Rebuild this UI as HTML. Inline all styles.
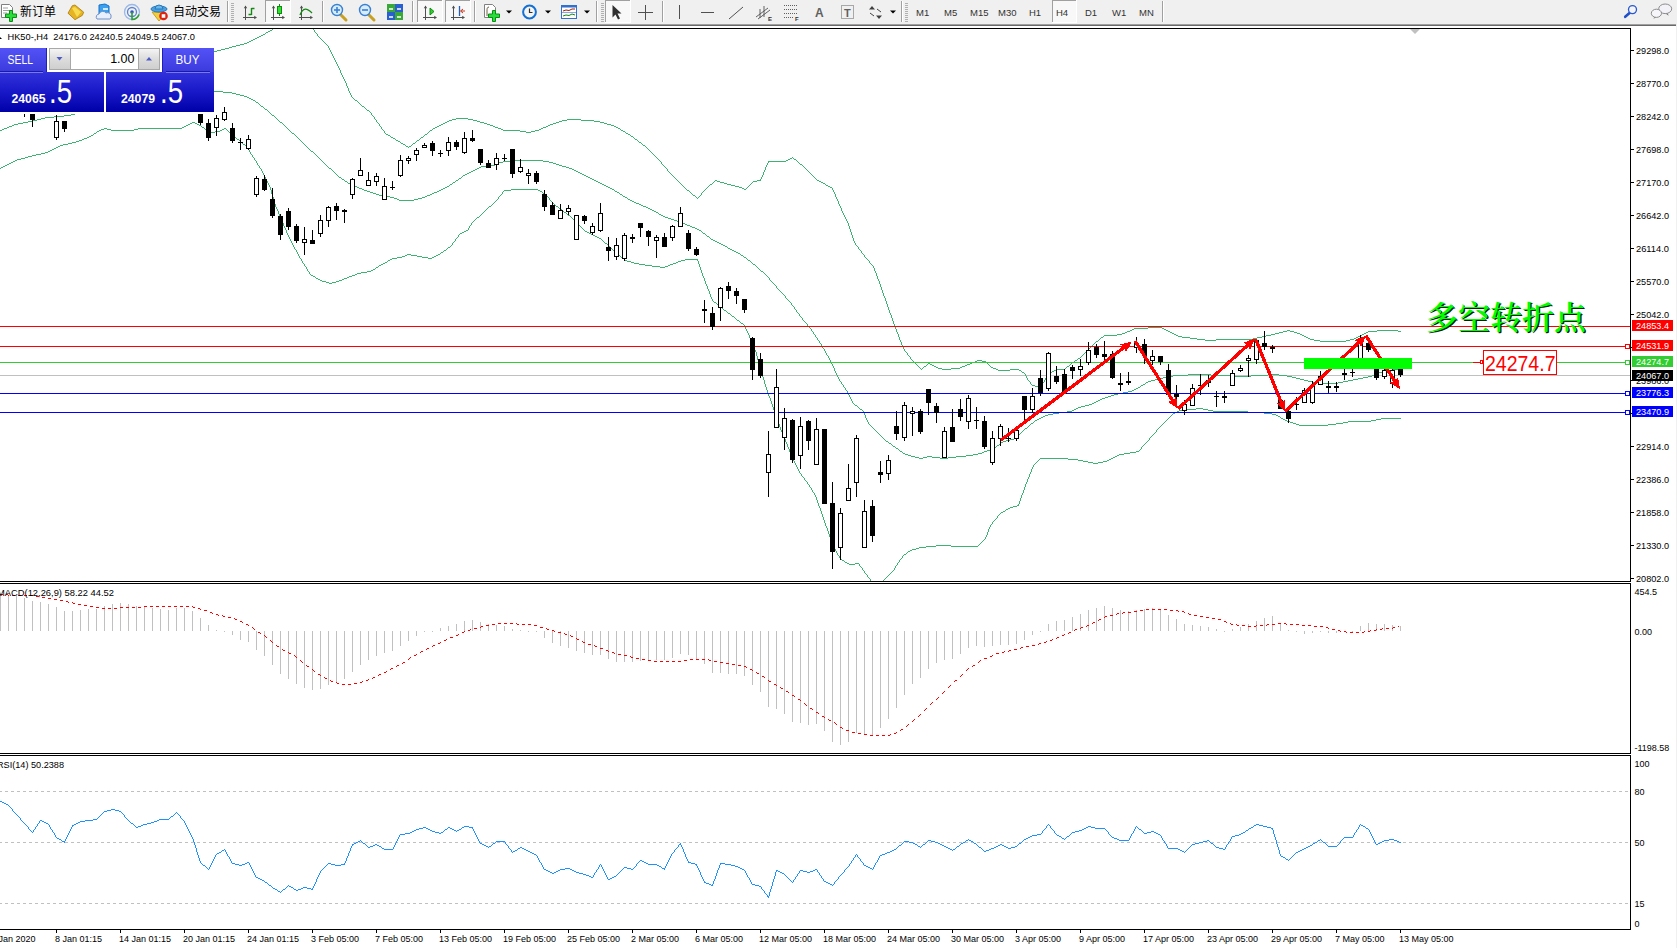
<!DOCTYPE html><html><head><meta charset="utf-8"><title>HK50-,H4</title>
<style>html,body{margin:0;padding:0;background:#fff;overflow:hidden}svg{display:block}text{font-family:"Liberation Sans","Noto Sans CJK SC",sans-serif}</style></head><body>
<svg width="1677" height="948" viewBox="0 0 1677 948">
<defs>
<linearGradient id="gTop" x1="0" y1="0" x2="0" y2="1"><stop offset="0" stop-color="#5252f6"/><stop offset="1" stop-color="#3a3adc"/></linearGradient>
<linearGradient id="gBot" x1="0" y1="0" x2="0" y2="1"><stop offset="0" stop-color="#3232dc"/><stop offset="0.5" stop-color="#1818c8"/><stop offset="1" stop-color="#0000a8"/></linearGradient>
<linearGradient id="gBtn" x1="0" y1="0" x2="0" y2="1"><stop offset="0" stop-color="#f4f4f4"/><stop offset="0.5" stop-color="#dcdcdc"/><stop offset="1" stop-color="#cfcfcf"/></linearGradient>
<clipPath id="cMain"><rect x="0" y="29" width="1630" height="552"/></clipPath>
</defs>
<rect width="1677" height="948" fill="#fff"/>
<rect x="0" y="375" width="1630" height="1" fill="#c0c0c0" shape-rendering="crispEdges"/>
<path d="M272 29.5h1m40 0h1m-44 1h2m42 0h1m-47 1h2m44 0h1m-49 1h2m47 0h1m-51 1h1m50 0h1m-54 1h2m52 0h1m-57 1h2m54 0h1m-59 1h2m57 0h1m-62 1h2m60 0h1m-65 1h2m63 0h1m-68 1h2m66 0h1m-71 1h2m69 0h1m-74 1h2m72 0h1m-77 1h2m75 0h1m-81 1h3m78 0h1m-86 1h4m82 0h1m-91 1h4m87 0h1m-96 1h4m92 0h1m-100 1h3m96 0h1m-104 1h4m100 0h1m-109 1h4m104 0h1m-113 1h4m109 0h1m-117 1h3m113 0h1m0 1h1m-1 1h1m0 1h1m-1 1h1m0 1h1m-1 1h1m0 1h1m-1 1h1m0 1h1m-1 1h1m0 1h1m-1 1h1m0 1h1m-1 1h1m0 1h1m-1 1h1m0 1h1m-1 1h1m0 1h1m-1 1h1m-1 1h1m0 1h1m-1 1h1m0 1h1m-1 1h1m0 1h1m-1 1h1m0 1h1m-1 1h1m0 1h1m-1 1h1m0 1h1m-1 1h1m-1 1h1m0 1h1m-1 1h1m0 1h1m-1 1h1m-1 1h1m0 1h1m-1 1h1m0 1h1m-1 1h1m0 1h1m-1 1h1m0 1h1m0 1h1m0 1h1m0 1h2m0 1h1m0 1h1m0 1h1m0 1h1m0 1h1m0 1h2m0 1h1m0 1h1m0 1h1m0 1h2m0 1h1m0 1h1m0 1h1m-1 1h1m0 1h1m0 1h1m0 1h1m-1 1h1m81 0h12m-93 1h1m76 0h4m12 0h5m94 0h14m-205 1h1m72 0h3m21 0h4m85 0h5m14 0h13m-218 1h1m70 0h2m28 0h3m79 0h3m32 0h6m-223 1h1m67 0h2m33 0h4m72 0h3m41 0h4m-226 1h1m64 0h2m39 0h3m66 0h3m48 0h3m-228 1h1m61 0h2m44 0h3m60 0h3m54 0h4m-232 1h1m59 0h2m49 0h3m55 0h2m61 0h3m-234 1h1m56 0h2m54 0h2m51 0h2m66 0h2m-235 1h1m53 0h2m58 0h3m45 0h3m70 0h2m-237 1h1m51 0h2m63 0h3m40 0h2m75 0h2m-238 1h1m49 0h1m68 0h2m36 0h2m79 0h1m-238 1h1m46 0h2m71 0h17m15 0h4m82 0h2m-239 1h1m44 0h1m90 0h6m5 0h4m88 0h2m-241 1h1m43 0h1m97 0h5m94 0h1m-241 1h1m41 0h1m198 0h2m-242 1h2m37 0h2m201 0h2m-242 1h2m34 0h1m205 0h1m-241 1h1m32 0h1m207 0h2m-242 1h2m28 0h2m210 0h1m-241 1h2m25 0h1m213 0h1m-240 1h1m23 0h1m215 0h2m-241 1h2m19 0h2m218 0h1m-240 1h2m16 0h1m221 0h1m-239 1h1m14 0h1m223 0h2m-240 1h2m10 0h2m226 0h1m-239 1h2m7 0h1m229 0h1m-238 1h1m5 0h1m231 0h2m-239 1h2m1 0h2m234 0h1m-238 1h1m237 0h1m0 1h1m0 1h1m0 1h1m0 1h1m0 1h1m0 1h1m0 1h1m0 1h1m0 1h1m0 1h1m135 0h1m-136 1h1m132 0h2m1 0h1m-136 1h1m129 0h2m4 0h2m-137 1h1m126 0h2m8 0h1m-137 1h1m107 0h18m11 0h1m-137 1h1m106 0h1m29 0h1m-138 1h1m105 0h1m31 0h1m-138 1h1m104 0h1m32 0h2m-139 1h1m102 0h1m35 0h1m-139 1h1m101 0h1m36 0h1m-139 1h1m99 0h1m38 0h1m-139 1h1m98 0h1m39 0h1m-139 1h1m97 0h1m40 0h1m-140 1h1m96 0h1m42 0h1m-140 1h1m95 0h1m43 0h1m-140 1h1m93 0h1m45 0h1m-140 1h1m92 0h1m46 0h1m-140 1h1m91 0h1m47 0h1m-140 1h1m89 0h1m49 0h1m-140 1h1m88 0h1m50 0h1m-140 1h1m86 0h1m52 0h1m-140 1h1m85 0h1m53 0h1m-140 1h1m83 0h1m55 0h1m-140 1h1m37 0h2m40 0h4m56 0h2m-141 1h1m35 0h1m2 0h3m33 0h4m62 0h2m-142 1h1m33 0h1m6 0h4m28 0h1m68 0h2m-143 1h1m31 0h1m11 0h3m24 0h1m71 0h2m-144 1h1m28 0h2m15 0h4m19 0h1m74 0h1m-144 1h1m26 0h1m21 0h4m14 0h1m76 0h2m-145 1h1m24 0h1m26 0h4m9 0h1m79 0h2m-146 1h1m22 0h1m31 0h3m5 0h1m82 0h2m-147 1h1m20 0h1m35 0h2m2 0h1m85 0h1m-147 1h1m18 0h1m38 0h2m86 0h1m-146 1h2m15 0h1m128 0h1m-145 1h1m13 0h1m129 0h1m-144 1h1m11 0h1m131 0h1m-144 1h1m9 0h1m132 0h1m-143 1h1m8 0h1m133 0h1m-143 1h2m5 0h1m134 0h1m-141 1h1m3 0h1m135 0h1m-140 1h1m1 0h1m137 0h1m-140 1h1m138 0h1m0 1h1m-1 1h1m0 1h1m-1 1h1m-1 1h1m0 1h1m-1 1h1m0 1h1m-1 1h1m0 1h1m-1 1h1m-1 1h1m0 1h1m-1 1h1m0 1h1m-1 1h1m0 1h1m-1 1h1m0 1h1m-1 1h1m0 1h1m-1 1h1m0 1h1m-1 1h1m0 1h1m-1 1h1m-1 1h1m0 1h1m-1 1h1m-1 1h1m0 1h1m-1 1h1m-1 1h1m0 1h1m-1 1h1m-1 1h1m0 1h1m-1 1h1m-1 1h1m0 1h1m-1 1h1m-1 1h1m0 1h1m-1 1h1m0 1h1m-1 1h1m0 1h1m0 1h1m0 1h1m-1 1h1m0 1h1m0 1h1m0 1h1m-1 1h1m0 1h1m0 1h1m0 1h1m-1 1h1m0 1h1m0 1h1m0 1h1m0 1h1m0 1h1m-1 1h1m0 1h1m0 1h1m0 1h1m0 1h1m-1 1h1m0 1h1m-1 1h1m-1 1h1m0 1h1m-1 1h1m0 1h1m-1 1h1m-1 1h1m0 1h1m-1 1h1m-1 1h1m0 1h1m-1 1h1m0 1h1m-1 1h1m-1 1h1m0 1h1m-1 1h1m-1 1h1m0 1h1m-1 1h1m-1 1h1m0 1h1m-1 1h1m-1 1h1m0 1h1m-1 1h1m-1 1h1m0 1h1m-1 1h1m0 1h1m-1 1h1m-1 1h1m0 1h1m-1 1h1m-1 1h1m0 1h1m-1 1h1m-1 1h1m0 1h1m-1 1h1m-1 1h1m0 1h1m-1 1h1m-1 1h1m0 1h1m-1 1h1m0 1h1m-1 1h1m-1 1h1m0 1h1m-1 1h1m-1 1h1m0 1h1m-1 1h1m-1 1h1m0 1h1m-1 1h1m0 1h1m-1 1h1m252 0h14m-267 1h1m238 0h14m14 0h2m-268 1h1m235 0h2m30 0h2m-270 1h1m233 0h2m34 0h2m119 0h3m87 0h21m-502 1h1m230 0h3m38 0h2m113 0h4m3 0h4m74 0h9m21 0h3m-504 1h1m227 0h2m43 0h2m107 0h4m11 0h3m69 0h2m-471 1h1m224 0h3m47 0h2m101 0h4m18 0h3m64 0h2m-468 1h1m218 0h5m52 0h2m95 0h4m25 0h2m60 0h2m-466 1h1m205 0h13m59 0h2m88 0h5m31 0h2m56 0h2m-464 1h1m204 0h1m74 0h4m80 0h4m38 0h2m52 0h2m-461 1h1m201 0h2m79 0h8m67 0h5m44 0h2m48 0h2m-459 1h1m200 0h1m89 0h7m56 0h4m51 0h2m44 0h2m-457 1h1m199 0h1m97 0h8m11 0h37m57 0h4m36 0h4m-454 1h1m197 0h1m106 0h11m98 0h6m26 0h4m-450 1h1m195 0h2m222 0h26m-445 1h1m193 0h1m-195 1h1m192 0h1m-194 1h1m191 0h1m-192 1h1m189 0h1m-191 1h1m188 0h1m-189 1h1m186 0h1m-188 1h1m185 0h1m-186 1h1m183 0h1m-185 1h1m182 0h1m-183 1h1m180 0h1m-181 1h1m178 0h1m-179 1h1m176 0h1m-178 1h1m175 0h1m-176 1h1m173 0h1m-174 1h1m171 0h1m-172 1h1m169 0h1m-171 1h1m167 0h2m-169 1h1m165 0h1m-166 1h1m64 0h5m93 0h2m-164 1h1m61 0h2m5 0h4m88 0h1m-161 1h1m57 0h3m11 0h1m85 0h2m-159 1h1m12 0h2m40 0h2m15 0h1m83 0h1m-156 1h1m10 0h1m2 0h2m35 0h3m18 0h1m81 0h1m-154 1h1m8 0h1m5 0h2m31 0h2m22 0h1m79 0h1m-152 1h1m5 0h2m8 0h2m26 0h3m25 0h1m76 0h2m-150 1h1m3 0h1m12 0h2m22 0h2m29 0h2m73 0h1m-147 1h1m1 0h1m15 0h4m9 0h9m33 0h3m69 0h1m-145 1h1m20 0h9m45 0h2m12 0h9m37 0h9m-67 1h12m9 0h2m33 0h2m-35 1h1m30 0h2m-32 1h2m27 0h1m-28 1h1m25 0h1m-26 1h1m23 0h1m-25 1h1m22 0h1m-23 1h1m20 0h1m-22 1h1m19 0h1m-20 1h1m17 0h1m-19 1h1m17 0h1m-18 1h1m15 0h1m-16 1h1m14 0h1m-15 1h1m12 0h1m-14 1h1m10 0h2m-12 1h1m8 0h1m-9 1h3m3 0h2m-5 1h3" stroke="#3cb371" stroke-width="1" fill="none" shape-rendering="crispEdges"/>
<path d="M214 91.5h9m0 1h9m0 1h4m0 1h4m0 1h4m0 1h3m0 1h2m0 1h2m0 1h2m0 1h2m0 1h1m0 1h2m0 1h1m0 1h1m0 1h1m0 1h2m0 1h1m0 1h1m0 1h2m0 1h1m0 1h1m0 1h1m0 1h1m-200 1h4m196 0h1m-208 1h7m201 0h2m-220 1h10m210 0h1m-230 1h9m221 0h1m-235 1h4m231 0h1m-240 1h4m236 0h1m-245 1h4m241 0h1m-251 1h5m246 0h1m-257 1h5m252 0h2m-264 1h5m259 0h1m-269 1h4m265 0h1m-272 1h2m270 0h1m-276 1h3m273 0h1m-279 1h2m277 0h1m-283 1h3m280 0h1m-286 1h2m284 0h1m-289 1h2m287 0h1m0 1h1m0 1h1m0 1h2m0 1h1m0 1h1m0 1h1m0 1h1m0 1h1m0 1h1m0 1h1m0 1h1m0 1h1m0 1h1m0 1h1m0 1h1m0 1h1m0 1h1m0 1h1m0 1h1m0 1h1m0 1h2m0 1h1m0 1h1m0 1h1m0 1h1m0 1h1m0 1h1m0 1h1m0 1h1m0 1h1m189 0h32m-221 1h1m180 0h8m32 0h6m-226 1h1m175 0h4m46 0h4m-229 1h1m172 0h2m54 0h3m-231 1h1m169 0h2m59 0h3m-233 1h1m161 0h7m64 0h3m-235 1h1m153 0h7m74 0h4m-238 1h1m150 0h2m85 0h3m-240 1h2m146 0h2m90 0h3m-241 1h1m143 0h2m95 0h2m-242 1h1m140 0h2m99 0h2m-243 1h1m137 0h2m103 0h2m-244 1h1m134 0h2m107 0h2m-245 1h1m131 0h2m111 0h2m-246 1h1m128 0h2m115 0h2m-247 1h1m125 0h2m119 0h2m-248 1h1m123 0h1m123 0h2m-249 1h2m120 0h1m126 0h2m-249 1h1m117 0h2m129 0h2m-250 1h2m114 0h1m133 0h2m-250 1h1m111 0h2m136 0h2m-251 1h2m108 0h1m140 0h2m-251 1h1m105 0h2m143 0h2m-252 1h2m102 0h1m147 0h2m-252 1h2m98 0h2m150 0h2m-252 1h2m95 0h1m154 0h2m-252 1h3m90 0h2m157 0h2m-251 1h2m86 0h2m161 0h2m-251 1h3m81 0h2m165 0h2m-250 1h2m77 0h2m169 0h2m-250 1h3m72 0h2m173 0h1m-248 1h3m67 0h2m176 0h2m-247 1h3m61 0h3m180 0h2m-246 1h3m56 0h2m185 0h1m-244 1h3m51 0h2m188 0h2m-243 1h5m43 0h3m192 0h1m-239 1h6m35 0h2m196 0h2m-235 1h4m28 0h3m200 0h2m-233 1h3m21 0h4m205 0h1m-231 1h2m15 0h4m210 0h2m-231 1h15m216 0h2m0 1h2m0 1h2m0 1h3m0 1h2m0 1h2m0 1h3m0 1h2m0 1h2m0 1h2m0 1h2m0 1h2m0 1h2m0 1h1m0 1h2m0 1h2m0 1h2m0 1h3m0 1h3m0 1h3m0 1h3m0 1h3m0 1h2m0 1h3m0 1h2m0 1h3m0 1h2m0 1h3m0 1h2m0 1h2m0 1h2m0 1h1m0 1h1m0 1h2m0 1h1m0 1h1m0 1h2m0 1h1m0 1h1m0 1h2m0 1h2m0 1h2m0 1h2m0 1h2m0 1h2m0 1h2m0 1h2m0 1h1m0 1h2m0 1h2m0 1h2m0 1h2m0 1h2m0 1h2m0 1h1m0 1h2m0 1h1m0 1h2m0 1h1m0 1h1m0 1h2m0 1h1m0 1h1m0 1h1m0 1h2m0 1h1m0 1h1m0 1h1m0 1h1m0 1h1m0 1h1m0 1h2m0 1h1m0 1h1m0 1h1m0 1h1m0 1h1m0 1h1m0 1h1m-1 1h1m0 1h1m0 1h1m0 1h1m0 1h1m0 1h1m0 1h1m0 1h1m-1 1h1m0 1h1m0 1h1m0 1h1m0 1h1m0 1h1m0 1h1m0 1h1m0 1h1m0 1h1m-1 1h1m0 1h1m0 1h1m0 1h1m0 1h1m0 1h1m0 1h1m-1 1h1m0 1h1m0 1h1m0 1h1m-1 1h1m0 1h1m0 1h1m-1 1h1m0 1h1m0 1h1m0 1h1m-1 1h1m0 1h1m0 1h1m0 1h1m-1 1h1m0 1h1m0 1h1m0 1h1m0 1h1m0 1h1m-1 1h1m0 1h1m0 1h1m0 1h1m0 1h1m-1 1h1m0 1h1m0 1h1m-1 1h1m0 1h1m0 1h1m-1 1h1m0 1h1m0 1h1m-1 1h1m0 1h1m0 1h1m-1 1h1m0 1h1m0 1h1m-1 1h1m0 1h1m-1 1h1m0 1h1m0 1h1m-1 1h1m0 1h1m-1 1h1m0 1h1m-1 1h1m0 1h1m0 1h1m-1 1h1m0 1h1m-1 1h1m0 1h1m-1 1h1m0 1h1m-1 1h1m0 1h1m-1 1h1m0 1h1m-1 1h1m0 1h1m-1 1h1m558 0h8m-567 1h1m549 0h9m-558 1h1m546 0h2m-549 1h1m543 0h3m-546 1h1m540 0h2m-543 1h1m351 0h23m57 0h11m95 0h3m-540 1h1m335 0h15m23 0h20m20 0h17m11 0h8m85 0h2m-537 1h1m330 0h5m58 0h20m36 0h5m76 0h4m-534 1h1m324 0h5m124 0h4m67 0h5m-530 1h1m320 0h4m133 0h4m58 0h5m-524 1h1m315 0h4m141 0h4m49 0h5m-519 1h1m311 0h4m149 0h4m40 0h5m-513 1h1m307 0h3m157 0h5m30 0h5m-507 1h1m304 0h2m165 0h5m20 0h5m-502 1h1m303 0h1m172 0h20m-496 1h1m300 0h2m-302 1h1m297 0h2m-300 1h1m296 0h1m-297 1h1m293 0h2m-295 1h1m290 0h2m-293 1h1m288 0h2m-290 1h1m285 0h2m-287 1h1m280 0h4m-285 1h1m275 0h5m-280 1h1m269 0h5m-275 1h1m265 0h4m-269 1h1m261 0h3m-265 1h1m258 0h3m-261 1h1m254 0h3m-258 1h1m251 0h3m-254 1h1m248 0h2m-251 1h1m246 0h2m-248 1h1m243 0h2m-246 1h1m241 0h2m-243 1h1m238 0h2m-240 1h1m234 0h3m-237 1h2m228 0h4m-232 1h1m223 0h4m-227 1h1m219 0h3m-222 1h1m216 0h2m-218 1h2m212 0h2m-214 1h1m209 0h2m-211 1h1m203 0h5m-209 1h1m195 0h8m-203 1h1m188 0h6m-195 1h1m183 0h5m-188 1h1m179 0h3m-183 1h1m177 0h2m-180 1h1m175 0h2m-177 1h1m172 0h2m-175 1h1m170 0h2m-172 1h1m167 0h2m-170 1h1m166 0h1m-167 1h1m164 0h1m-166 1h1m162 0h2m-164 1h1m160 0h1m-161 1h1m158 0h1m-159 1h1m156 0h1m-157 1h1m154 0h1m-155 1h1m151 0h2m-153 1h1m149 0h1m-150 1h1m147 0h1m-148 1h1m145 0h1m-146 1h1m143 0h1m-144 1h1m141 0h1m-142 1h1m139 0h1m-140 1h1m137 0h1m-138 1h1m135 0h1m-136 1h1m133 0h1m-134 1h1m130 0h2m-132 1h1m125 0h4m-129 1h1m120 0h4m-124 1h2m115 0h3m-118 1h1m112 0h2m-114 1h2m109 0h1m-110 1h1m107 0h1m-108 1h1m104 0h2m-106 1h2m101 0h1m-102 1h1m98 0h2m-100 1h2m94 0h2m-96 1h1m91 0h2m-93 1h1m87 0h3m-90 1h2m82 0h3m-85 1h1m79 0h2m-81 1h2m73 0h4m-77 1h3m65 0h5m-70 1h3m55 0h7m-62 1h4m12 0h5m24 0h10m-51 1h4m4 0h4m5 0h8m8 0h8m-37 1h4m17 0h8" stroke="#3cb371" stroke-width="1" fill="none" shape-rendering="crispEdges"/>
<path d="M192 122.5h3m-5 1h2m3 0h2m-9 1h2m7 0h2m-13 1h2m11 0h2m-17 1h2m15 0h1m-20 1h2m18 0h2m-100 1h3m31 0h44m22 0h1m19 0h2m-125 1h3m3 0h4m23 0h4m67 0h1m16 0h2m2 0h1m-128 1h2m10 0h23m72 0h2m12 0h2m5 0h1m-131 1h2m109 0h2m5 0h5m8 0h1m-133 1h1m113 0h5m14 0h2m-137 1h2m135 0h1m-139 1h1m138 0h1m-142 1h2m140 0h1m-145 1h2m143 0h1m-148 1h2m146 0h1m-152 1h3m149 0h1m-155 1h2m153 0h2m-160 1h3m157 0h1m-164 1h3m161 0h1m-169 1h4m165 0h1m-174 1h4m170 0h1m-180 1h5m175 0h2m-185 1h3m182 0h1m-188 1h2m186 0h1m-191 1h2m189 0h1m-194 1h2m191 0h1m-196 1h2m194 0h1m-199 1h2m197 0h1m-202 1h2m199 0h1m-205 1h3m202 0h1m-210 1h4m205 0h1m-215 1h5m210 0h1m-220 1h4m216 0h1m-225 1h4m220 0h1m-228 1h3m225 0h1m-233 1h4m229 0h1m-238 1h4m233 0h1m-240 1h2m238 0h1m-243 1h2m241 0h1m-246 1h2m243 0h1m-248 1h2m246 0h1m-251 1h2m248 0h1m-253 1h2m251 0h1m-256 1h2m254 0h1m-259 1h2m256 0h1m-260 1h1m259 0h1m0 1h1m-1 1h1m0 1h1m-1 1h1m0 1h1m-1 1h1m0 1h1m-1 1h1m0 1h1m-1 1h1m0 1h1m-1 1h1m0 1h1m-1 1h1m0 1h1m-1 1h1m0 1h1m-1 1h1m0 1h1m-1 1h1m-1 1h1m240 0h27m-267 1h1m232 0h7m27 0h2m-269 1h1m231 0h1m36 0h2m-271 1h1m230 0h1m39 0h1m-272 1h1m230 0h1m40 0h2m-273 1h1m228 0h1m43 0h1m-274 1h1m227 0h1m45 0h1m-275 1h1m226 0h1m47 0h1m-275 1h1m224 0h1m49 0h1m-276 1h1m224 0h1m50 0h1m-277 1h1m223 0h1m51 0h1m-276 1h1m221 0h1m53 0h1m-277 1h1m220 0h1m55 0h1m-278 1h1m219 0h1m57 0h1m-279 1h1m218 0h1m59 0h1m-279 1h1m216 0h1m61 0h1m-280 1h1m215 0h1m63 0h1m-281 1h1m213 0h2m65 0h2m-282 1h1m211 0h1m69 0h1m-283 1h1m210 0h1m71 0h1m-283 1h1m208 0h1m73 0h2m-285 1h1m207 0h1m76 0h1m-285 1h1m205 0h1m78 0h1m-286 1h1m204 0h1m80 0h2m-288 1h1m203 0h1m83 0h1m-288 1h1m201 0h1m85 0h1m-289 1h1m200 0h1m87 0h2m-290 1h1m198 0h1m90 0h1m-291 1h1m196 0h2m92 0h1m-292 1h1m195 0h1m95 0h1m-292 1h1m193 0h1m97 0h1m-293 1h1m192 0h1m99 0h1m-293 1h1m190 0h1m101 0h1m-294 1h1m189 0h1m103 0h1m-294 1h1m187 0h1m105 0h1m-295 1h1m187 0h1m106 0h1m-296 1h1m186 0h1m108 0h1m-296 1h1m184 0h1m110 0h1m-297 1h1m184 0h1m111 0h1m-297 1h1m182 0h1m113 0h1m-298 1h1m182 0h1m114 0h1m-298 1h1m179 0h2m116 0h1m-299 1h1m177 0h2m119 0h2m-301 1h1m175 0h2m123 0h2m-302 1h1m172 0h2m127 0h2m-304 1h1m171 0h1m131 0h2m-305 1h1m169 0h1m134 0h2m-307 1h1m169 0h1m136 0h2m-308 1h1m167 0h1m139 0h2m-310 1h1m166 0h1m142 0h2m-311 1h1m164 0h1m145 0h1m-312 1h1m164 0h1m146 0h1m-312 1h1m162 0h1m148 0h1m-313 1h1m161 0h1m150 0h1m-313 1h1m159 0h1m152 0h2m-315 1h1m159 0h1m154 0h1m-315 1h1m157 0h1m156 0h1m-316 1h1m156 0h1m158 0h1m-316 1h1m153 0h2m160 0h1m-317 1h1m152 0h1m163 0h1m-317 1h1m150 0h1m165 0h1m-317 1h1m147 0h2m167 0h1m-318 1h1m146 0h1m170 0h1m-318 1h1m143 0h2m172 0h2m-320 1h1m142 0h1m176 0h1m-320 1h1m108 0h4m27 0h2m178 0h1m-321 1h1m106 0h2m4 0h6m19 0h2m181 0h1m-321 1h1m102 0h3m12 0h5m12 0h2m184 0h1m-322 1h1m97 0h5m20 0h6m4 0h2m187 0h2m-323 1h1m91 0h5m31 0h4m191 0h1m-323 1h1m88 0h2m232 0h1m60 0h13m-397 1h1m86 0h2m235 0h2m54 0h4m12 0h1m-396 1h1m84 0h1m239 0h4m47 0h3m17 0h1m-397 1h1m82 0h2m244 0h3m42 0h2m20 0h1m-396 1h1m79 0h2m249 0h5m34 0h3m22 0h1m-395 1h1m76 0h2m256 0h6m25 0h3m26 0h1m-396 1h1m74 0h2m264 0h7m16 0h2m29 0h1m-395 1h1m72 0h1m273 0h8m5 0h3m31 0h1m-394 1h1m69 0h2m282 0h5m35 0h1m-395 1h1m68 0h1m324 0h1m-394 1h1m65 0h2m325 0h1m-394 1h1m63 0h2m328 0h1m-394 1h1m58 0h4m330 0h1m-393 1h1m51 0h6m334 0h1m-393 1h1m47 0h4m341 0h1m-393 1h1m44 0h2m345 0h1m-392 1h2m39 0h3m347 0h1m-390 1h2m34 0h3m351 0h1m-389 1h1m31 0h2m354 0h1m-388 1h2m26 0h3m357 0h1m-387 1h2m22 0h2m360 0h1m-385 1h2m17 0h3m362 0h1m-383 1h4m10 0h3m366 0h1m-380 1h3m3 0h4m369 0h1m-377 1h3m373 0h1m0 1h1m-1 1h1m0 1h1m-1 1h1m-1 1h1m0 1h1m-1 1h1m0 1h1m-1 1h1m-1 1h1m0 1h1m-1 1h1m-1 1h1m0 1h1m-1 1h1m0 1h1m-1 1h1m0 1h1m0 1h2m0 1h1m0 1h1m0 1h1m0 1h2m0 1h1m0 1h1m0 1h1m0 1h2m0 1h1m0 1h1m0 1h2m0 1h1m0 1h1m0 1h2m0 1h1m0 1h1m0 1h1m0 1h2m0 1h1m0 1h1m0 1h2m0 1h1m0 1h1m-1 1h1m0 1h1m-1 1h1m0 1h1m-1 1h1m0 1h1m-1 1h1m0 1h1m-1 1h1m0 1h1m-1 1h1m-1 1h1m0 1h1m-1 1h1m-1 1h1m0 1h1m-1 1h1m-1 1h1m0 1h1m-1 1h1m0 1h1m-1 1h1m0 1h1m-1 1h1m0 1h1m-1 1h1m0 1h1m-1 1h1m-1 1h1m-1 1h1m0 1h1m-1 1h1m-1 1h1m-1 1h1m0 1h1m-1 1h1m-1 1h1m0 1h1m-1 1h1m-1 1h1m-1 1h1m0 1h1m-1 1h1m-1 1h1m0 1h1m-1 1h1m-1 1h1m-1 1h1m0 1h1m-1 1h1m-1 1h1m0 1h1m-1 1h1m-1 1h1m0 1h1m-1 1h1m-1 1h1m-1 1h1m0 1h1m-1 1h1m-1 1h1m0 1h1m-1 1h1m-1 1h1m0 1h1m-1 1h1m-1 1h1m0 1h1m-1 1h1m-1 1h1m0 1h1m-1 1h1m0 1h1m-1 1h1m-1 1h1m0 1h1m-1 1h1m-1 1h1m0 1h1m-1 1h1m-1 1h1m0 1h1m-1 1h1m422 0h7m-430 1h1m412 0h10m7 0h5m-434 1h1m404 0h7m22 0h5m-439 1h1m402 0h2m34 0h35m-474 1h1m400 0h2m71 0h16m-489 1h1m397 0h2m89 0h8m-497 1h1m396 0h1m99 0h4m-501 1h1m395 0h1m104 0h2m-502 1h1m393 0h1m107 0h2m-504 1h1m392 0h1m110 0h1m-504 1h1m390 0h1m112 0h2m98 0h20m-624 1h1m389 0h1m115 0h2m91 0h5m-604 1h1m388 0h1m118 0h2m84 0h5m-598 1h1m386 0h1m121 0h3m58 0h23m-593 1h1m385 0h1m125 0h3m50 0h5m-570 1h1m384 0h1m129 0h3m40 0h7m-564 1h1m382 0h1m133 0h3m29 0h8m-557 1h1m381 0h1m137 0h29m-549 1h1m380 0h1m-381 1h1m378 0h1m-380 1h1m377 0h1m-379 1h1m376 0h1m-377 1h1m374 0h1m-376 1h1m374 0h1m-375 1h1m372 0h1m-374 1h1m371 0h1m-373 1h1m370 0h1m-371 1h1m368 0h1m-370 1h1m367 0h1m-368 1h1m365 0h1m-367 1h1m364 0h1m-365 1h1m363 0h1m-365 1h1m362 0h1m-364 1h1m361 0h1m-362 1h1m359 0h1m-361 1h1m358 0h1m-359 1h1m356 0h1m-358 1h1m355 0h1m-357 1h1m354 0h1m-355 1h1m352 0h1m-354 1h1m352 0h1m-353 1h1m350 0h1m-352 1h1m349 0h1m-351 1h1m346 0h3m-349 1h1m339 0h6m-346 1h1m333 0h6m-339 1h1m327 0h5m-333 1h1m325 0h2m-328 1h1m323 0h2m-325 1h1m320 0h2m-323 1h1m247 0h28m43 0h2m-320 1h1m245 0h1m28 0h10m31 0h2m-318 1h1m244 0h1m39 0h5m24 0h2m-315 1h1m242 0h1m45 0h5m15 0h4m-313 1h1m241 0h1m51 0h5m5 0h5m-308 1h1m239 0h1m57 0h5m-303 1h1m238 0h1m-239 1h1m236 0h1m-238 1h1m236 0h1m-237 1h1m234 0h1m-236 1h1m234 0h1m-235 1h1m232 0h1m-234 1h1m232 0h1m-233 1h1m231 0h1m-233 1h1m230 0h1m-231 1h1m229 0h1m-230 1h1m227 0h1m-229 1h1m227 0h1m-228 1h1m226 0h1m-227 1h1m224 0h1m-225 1h1m223 0h1m-225 1h1m222 0h1m-223 1h1m221 0h1m-222 1h1m220 0h1m-221 1h1m218 0h1m-220 1h1m218 0h1m-219 1h1m216 0h1m-217 1h1m215 0h1m-217 1h1m215 0h1m-216 1h1m213 0h1m-214 1h1m212 0h1m-214 1h1m212 0h1m-213 1h1m210 0h1m-212 1h1m210 0h1m-211 1h1m209 0h1m-210 1h1m207 0h1m-209 1h1m207 0h1m-208 1h1m205 0h1m-207 1h1m205 0h1m-206 1h1m204 0h1m-206 1h1m203 0h1m-205 1h1m203 0h1m-204 1h1m202 0h1m-204 1h1m201 0h1m-203 1h1m201 0h1m-202 1h1m200 0h1m-202 1h1m199 0h1m-201 1h1m198 0h2m-200 1h1m193 0h4m-198 1h1m190 0h3m-193 1h1m187 0h2m-190 1h1m185 0h2m-188 1h1m184 0h1m-185 1h1m181 0h2m-184 1h1m179 0h2m-182 1h1m178 0h1m-179 1h1m176 0h1m-178 1h1m175 0h1m-177 1h1m174 0h1m-175 1h1m173 0h1m-175 1h1m172 0h1m-174 1h1m171 0h1m-172 1h1m169 0h1m-171 1h1m168 0h1m-170 1h1m167 0h1m-168 1h1m166 0h1m-168 1h1m165 0h1m-167 1h1m164 0h1m-165 1h1m163 0h1m-165 1h1m162 0h1m-163 1h1m161 0h1m-163 1h1m160 0h1m-162 1h1m160 0h1m-161 1h1m159 0h1m-161 1h1m158 0h1m-160 1h1m158 0h1m-159 1h1m157 0h1m-159 1h1m156 0h1m-158 1h1m156 0h1m-157 1h1m154 0h1m-156 1h1m154 0h1m-156 1h1m153 0h1m-154 1h1m151 0h1m-153 1h1m150 0h1m-151 1h1m148 0h1m-150 1h1m147 0h1m-149 1h1m146 0h1m-147 1h1m102 0h15m27 0h1m-146 1h1m92 0h10m15 0h27m-144 1h1m84 0h7m-92 1h1m81 0h3m-84 1h1m76 0h4m-81 1h1m74 0h2m-76 1h1m71 0h2m-74 1h1m70 0h1m-71 1h1m68 0h1m-70 1h1m66 0h2m-68 1h1m64 0h1m-65 1h1m62 0h1m-64 1h1m62 0h1m-63 1h1m60 0h1m-61 1h1m58 0h1m-59 1h2m55 0h1m-56 1h1m54 0h1m-55 1h2m51 0h1m-52 1h2m6 0h4m38 0h1m-49 1h6m4 0h1m37 0h1m-39 1h1m36 0h1m-37 1h1m34 0h1m-35 1h1m33 0h1m-34 1h1m31 0h1m-33 1h1m31 0h1m-32 1h1m29 0h1m-30 1h1m27 0h1m-29 1h1m26 0h1m-27 1h1m24 0h1m-25 1h1m22 0h1m-23 1h1m20 0h1m-22 1h1m19 0h1m-20 1h1m17 0h1m-18 1h1m15 0h1m-16 1h1m13 0h1m-15 1h1m12 0h1" stroke="#3cb371" stroke-width="1" fill="none" shape-rendering="crispEdges"/>
<g shape-rendering="crispEdges" clip-path="url(#cMain)">
<rect x="0" y="326" width="1630" height="1" fill="#ff0000"/>
<rect x="0" y="346" width="1630" height="1" fill="#ff0000"/>
<rect x="0" y="362" width="1630" height="1" fill="#32cd32"/>
<rect x="0" y="393" width="1630" height="1" fill="#0000ff"/>
<rect x="0" y="412" width="1630" height="1" fill="#0000ff"/>
</g>
<g shape-rendering="crispEdges" clip-path="url(#cMain)">
<rect x="24" y="114" width="1" height="3" fill="#000"/>
<rect x="32" y="114" width="1" height="13" fill="#000"/>
<rect x="30" y="114" width="5" height="6" fill="#000"/>
<rect x="56" y="115" width="1" height="25" fill="#000"/>
<rect x="54" y="121" width="5" height="17" fill="#000"/>
<rect x="55" y="122" width="3" height="15" fill="#fff"/>
<rect x="64" y="121" width="1" height="11" fill="#000"/>
<rect x="62" y="121" width="5" height="8" fill="#000"/>
<rect x="200" y="114" width="1" height="11" fill="#000"/>
<rect x="198" y="114" width="5" height="9" fill="#000"/>
<rect x="208" y="119" width="1" height="22" fill="#000"/>
<rect x="206" y="123" width="5" height="15" fill="#000"/>
<rect x="216" y="115" width="1" height="21" fill="#000"/>
<rect x="214" y="118" width="5" height="10" fill="#000"/>
<rect x="215" y="119" width="3" height="8" fill="#fff"/>
<rect x="224" y="107" width="1" height="14" fill="#000"/>
<rect x="222" y="112" width="5" height="8" fill="#000"/>
<rect x="223" y="113" width="3" height="6" fill="#fff"/>
<rect x="232" y="123" width="1" height="20" fill="#000"/>
<rect x="230" y="128" width="5" height="13" fill="#000"/>
<rect x="240" y="138" width="1" height="12" fill="#000"/>
<rect x="238" y="142" width="5" height="1" fill="#000"/>
<rect x="248" y="135" width="1" height="15" fill="#000"/>
<rect x="246" y="139" width="5" height="10" fill="#000"/>
<rect x="247" y="140" width="3" height="8" fill="#fff"/>
<rect x="256" y="176" width="1" height="21" fill="#000"/>
<rect x="254" y="178" width="5" height="17" fill="#000"/>
<rect x="255" y="179" width="3" height="15" fill="#fff"/>
<rect x="264" y="175" width="1" height="16" fill="#000"/>
<rect x="262" y="179" width="5" height="11" fill="#000"/>
<rect x="272" y="188" width="1" height="30" fill="#000"/>
<rect x="270" y="199" width="5" height="17" fill="#000"/>
<rect x="280" y="214" width="1" height="26" fill="#000"/>
<rect x="278" y="216" width="5" height="19" fill="#000"/>
<rect x="288" y="208" width="1" height="22" fill="#000"/>
<rect x="286" y="211" width="5" height="16" fill="#000"/>
<rect x="296" y="224" width="1" height="19" fill="#000"/>
<rect x="294" y="226" width="5" height="15" fill="#000"/>
<rect x="304" y="227" width="1" height="28" fill="#000"/>
<rect x="302" y="239" width="5" height="4" fill="#000"/>
<rect x="303" y="240" width="3" height="2" fill="#fff"/>
<rect x="312" y="230" width="1" height="14" fill="#000"/>
<rect x="310" y="240" width="5" height="4" fill="#000"/>
<rect x="320" y="215" width="1" height="22" fill="#000"/>
<rect x="318" y="220" width="5" height="14" fill="#000"/>
<rect x="319" y="221" width="3" height="12" fill="#fff"/>
<rect x="328" y="206" width="1" height="21" fill="#000"/>
<rect x="326" y="207" width="5" height="14" fill="#000"/>
<rect x="327" y="208" width="3" height="12" fill="#fff"/>
<rect x="336" y="203" width="1" height="17" fill="#000"/>
<rect x="334" y="206" width="5" height="5" fill="#000"/>
<rect x="344" y="209" width="1" height="14" fill="#000"/>
<rect x="342" y="210" width="5" height="2" fill="#000"/>
<rect x="352" y="178" width="1" height="21" fill="#000"/>
<rect x="350" y="179" width="5" height="16" fill="#000"/>
<rect x="351" y="180" width="3" height="14" fill="#fff"/>
<rect x="360" y="158" width="1" height="18" fill="#000"/>
<rect x="358" y="170" width="5" height="6" fill="#000"/>
<rect x="359" y="171" width="3" height="4" fill="#fff"/>
<rect x="368" y="172" width="1" height="14" fill="#000"/>
<rect x="366" y="180" width="5" height="6" fill="#000"/>
<rect x="367" y="181" width="3" height="4" fill="#fff"/>
<rect x="376" y="173" width="1" height="13" fill="#000"/>
<rect x="374" y="176" width="5" height="6" fill="#000"/>
<rect x="375" y="177" width="3" height="4" fill="#fff"/>
<rect x="384" y="178" width="1" height="22" fill="#000"/>
<rect x="382" y="186" width="5" height="14" fill="#000"/>
<rect x="383" y="187" width="3" height="12" fill="#fff"/>
<rect x="392" y="181" width="1" height="9" fill="#000"/>
<rect x="390" y="187" width="5" height="1" fill="#000"/>
<rect x="400" y="155" width="1" height="22" fill="#000"/>
<rect x="398" y="160" width="5" height="16" fill="#000"/>
<rect x="399" y="161" width="3" height="14" fill="#fff"/>
<rect x="408" y="156" width="1" height="8" fill="#000"/>
<rect x="406" y="158" width="5" height="3" fill="#000"/>
<rect x="407" y="159" width="3" height="1" fill="#fff"/>
<rect x="416" y="148" width="1" height="13" fill="#000"/>
<rect x="414" y="150" width="5" height="5" fill="#000"/>
<rect x="415" y="151" width="3" height="3" fill="#fff"/>
<rect x="424" y="143" width="1" height="5" fill="#000"/>
<rect x="422" y="145" width="5" height="3" fill="#000"/>
<rect x="423" y="146" width="3" height="1" fill="#fff"/>
<rect x="432" y="141" width="1" height="15" fill="#000"/>
<rect x="430" y="143" width="5" height="8" fill="#000"/>
<rect x="440" y="150" width="1" height="7" fill="#000"/>
<rect x="438" y="153" width="5" height="1" fill="#000"/>
<rect x="448" y="137" width="1" height="19" fill="#000"/>
<rect x="446" y="142" width="5" height="9" fill="#000"/>
<rect x="447" y="143" width="3" height="7" fill="#fff"/>
<rect x="456" y="140" width="1" height="10" fill="#000"/>
<rect x="454" y="142" width="5" height="5" fill="#000"/>
<rect x="464" y="132" width="1" height="22" fill="#000"/>
<rect x="462" y="138" width="5" height="15" fill="#000"/>
<rect x="463" y="139" width="3" height="13" fill="#fff"/>
<rect x="472" y="130" width="1" height="12" fill="#000"/>
<rect x="470" y="138" width="5" height="3" fill="#000"/>
<rect x="480" y="149" width="1" height="16" fill="#000"/>
<rect x="478" y="149" width="5" height="14" fill="#000"/>
<rect x="488" y="160" width="1" height="8" fill="#000"/>
<rect x="486" y="163" width="5" height="5" fill="#000"/>
<rect x="496" y="153" width="1" height="17" fill="#000"/>
<rect x="494" y="158" width="5" height="7" fill="#000"/>
<rect x="495" y="159" width="3" height="5" fill="#fff"/>
<rect x="504" y="154" width="1" height="7" fill="#000"/>
<rect x="502" y="158" width="5" height="1" fill="#000"/>
<rect x="512" y="149" width="1" height="29" fill="#000"/>
<rect x="510" y="149" width="5" height="25" fill="#000"/>
<rect x="520" y="159" width="1" height="14" fill="#000"/>
<rect x="518" y="167" width="5" height="5" fill="#000"/>
<rect x="519" y="168" width="3" height="3" fill="#fff"/>
<rect x="528" y="169" width="1" height="15" fill="#000"/>
<rect x="526" y="173" width="5" height="3" fill="#000"/>
<rect x="527" y="174" width="3" height="1" fill="#fff"/>
<rect x="536" y="171" width="1" height="13" fill="#000"/>
<rect x="534" y="173" width="5" height="9" fill="#000"/>
<rect x="544" y="190" width="1" height="21" fill="#000"/>
<rect x="542" y="194" width="5" height="13" fill="#000"/>
<rect x="552" y="202" width="1" height="13" fill="#000"/>
<rect x="550" y="205" width="5" height="10" fill="#000"/>
<rect x="560" y="204" width="1" height="15" fill="#000"/>
<rect x="558" y="210" width="5" height="9" fill="#000"/>
<rect x="559" y="211" width="3" height="7" fill="#fff"/>
<rect x="568" y="205" width="1" height="10" fill="#000"/>
<rect x="566" y="208" width="5" height="4" fill="#000"/>
<rect x="567" y="209" width="3" height="2" fill="#fff"/>
<rect x="576" y="215" width="1" height="25" fill="#000"/>
<rect x="574" y="215" width="5" height="25" fill="#000"/>
<rect x="575" y="216" width="3" height="23" fill="#fff"/>
<rect x="584" y="215" width="1" height="9" fill="#000"/>
<rect x="582" y="216" width="5" height="5" fill="#000"/>
<rect x="592" y="223" width="1" height="12" fill="#000"/>
<rect x="590" y="226" width="5" height="7" fill="#000"/>
<rect x="591" y="227" width="3" height="5" fill="#fff"/>
<rect x="600" y="203" width="1" height="29" fill="#000"/>
<rect x="598" y="213" width="5" height="18" fill="#000"/>
<rect x="599" y="214" width="3" height="16" fill="#fff"/>
<rect x="608" y="237" width="1" height="24" fill="#000"/>
<rect x="606" y="247" width="5" height="4" fill="#000"/>
<rect x="616" y="238" width="1" height="22" fill="#000"/>
<rect x="614" y="245" width="5" height="12" fill="#000"/>
<rect x="615" y="246" width="3" height="10" fill="#fff"/>
<rect x="624" y="233" width="1" height="28" fill="#000"/>
<rect x="622" y="235" width="5" height="24" fill="#000"/>
<rect x="623" y="236" width="3" height="22" fill="#fff"/>
<rect x="632" y="234" width="1" height="9" fill="#000"/>
<rect x="630" y="237" width="5" height="2" fill="#000"/>
<rect x="640" y="223" width="1" height="14" fill="#000"/>
<rect x="638" y="223" width="5" height="5" fill="#000"/>
<rect x="648" y="230" width="1" height="16" fill="#000"/>
<rect x="646" y="231" width="5" height="6" fill="#000"/>
<rect x="656" y="235" width="1" height="23" fill="#000"/>
<rect x="654" y="237" width="5" height="4" fill="#000"/>
<rect x="655" y="238" width="3" height="2" fill="#fff"/>
<rect x="664" y="233" width="1" height="14" fill="#000"/>
<rect x="662" y="237" width="5" height="10" fill="#000"/>
<rect x="672" y="225" width="1" height="16" fill="#000"/>
<rect x="670" y="226" width="5" height="12" fill="#000"/>
<rect x="671" y="227" width="3" height="10" fill="#fff"/>
<rect x="680" y="207" width="1" height="20" fill="#000"/>
<rect x="678" y="213" width="5" height="14" fill="#000"/>
<rect x="679" y="214" width="3" height="12" fill="#fff"/>
<rect x="688" y="230" width="1" height="21" fill="#000"/>
<rect x="686" y="233" width="5" height="16" fill="#000"/>
<rect x="696" y="247" width="1" height="9" fill="#000"/>
<rect x="694" y="249" width="5" height="6" fill="#000"/>
<rect x="704" y="300" width="1" height="23" fill="#000"/>
<rect x="702" y="309" width="5" height="2" fill="#000"/>
<rect x="712" y="307" width="1" height="23" fill="#000"/>
<rect x="710" y="313" width="5" height="14" fill="#000"/>
<rect x="720" y="287" width="1" height="34" fill="#000"/>
<rect x="718" y="288" width="5" height="20" fill="#000"/>
<rect x="719" y="289" width="3" height="18" fill="#fff"/>
<rect x="728" y="282" width="1" height="17" fill="#000"/>
<rect x="726" y="286" width="5" height="5" fill="#000"/>
<rect x="736" y="288" width="1" height="16" fill="#000"/>
<rect x="734" y="291" width="5" height="5" fill="#000"/>
<rect x="744" y="299" width="1" height="14" fill="#000"/>
<rect x="742" y="299" width="5" height="11" fill="#000"/>
<rect x="752" y="337" width="1" height="43" fill="#000"/>
<rect x="750" y="338" width="5" height="32" fill="#000"/>
<rect x="760" y="353" width="1" height="25" fill="#000"/>
<rect x="758" y="359" width="5" height="17" fill="#000"/>
<rect x="768" y="431" width="1" height="66" fill="#000"/>
<rect x="766" y="454" width="5" height="19" fill="#000"/>
<rect x="767" y="455" width="3" height="17" fill="#fff"/>
<rect x="776" y="369" width="1" height="59" fill="#000"/>
<rect x="774" y="387" width="5" height="41" fill="#000"/>
<rect x="775" y="388" width="3" height="39" fill="#fff"/>
<rect x="784" y="408" width="1" height="42" fill="#000"/>
<rect x="782" y="418" width="5" height="20" fill="#000"/>
<rect x="783" y="419" width="3" height="18" fill="#fff"/>
<rect x="792" y="419" width="1" height="44" fill="#000"/>
<rect x="790" y="420" width="5" height="40" fill="#000"/>
<rect x="800" y="417" width="1" height="52" fill="#000"/>
<rect x="798" y="426" width="5" height="30" fill="#000"/>
<rect x="799" y="427" width="3" height="28" fill="#fff"/>
<rect x="808" y="420" width="1" height="30" fill="#000"/>
<rect x="806" y="421" width="5" height="20" fill="#000"/>
<rect x="816" y="418" width="1" height="47" fill="#000"/>
<rect x="814" y="429" width="5" height="36" fill="#000"/>
<rect x="815" y="430" width="3" height="34" fill="#fff"/>
<rect x="824" y="429" width="1" height="75" fill="#000"/>
<rect x="822" y="429" width="5" height="75" fill="#000"/>
<rect x="832" y="482" width="1" height="87" fill="#000"/>
<rect x="830" y="503" width="5" height="49" fill="#000"/>
<rect x="840" y="508" width="1" height="52" fill="#000"/>
<rect x="838" y="513" width="5" height="35" fill="#000"/>
<rect x="839" y="514" width="3" height="33" fill="#fff"/>
<rect x="848" y="464" width="1" height="37" fill="#000"/>
<rect x="846" y="488" width="5" height="13" fill="#000"/>
<rect x="847" y="489" width="3" height="11" fill="#fff"/>
<rect x="856" y="435" width="1" height="62" fill="#000"/>
<rect x="854" y="438" width="5" height="45" fill="#000"/>
<rect x="855" y="439" width="3" height="43" fill="#fff"/>
<rect x="864" y="500" width="1" height="48" fill="#000"/>
<rect x="862" y="511" width="5" height="37" fill="#000"/>
<rect x="863" y="512" width="3" height="35" fill="#fff"/>
<rect x="872" y="500" width="1" height="42" fill="#000"/>
<rect x="870" y="506" width="5" height="30" fill="#000"/>
<rect x="880" y="461" width="1" height="22" fill="#000"/>
<rect x="878" y="472" width="5" height="3" fill="#000"/>
<rect x="888" y="455" width="1" height="25" fill="#000"/>
<rect x="886" y="460" width="5" height="14" fill="#000"/>
<rect x="887" y="461" width="3" height="12" fill="#fff"/>
<rect x="896" y="411" width="1" height="29" fill="#000"/>
<rect x="894" y="426" width="5" height="8" fill="#000"/>
<rect x="904" y="402" width="1" height="39" fill="#000"/>
<rect x="902" y="405" width="5" height="33" fill="#000"/>
<rect x="903" y="406" width="3" height="31" fill="#fff"/>
<rect x="912" y="407" width="1" height="29" fill="#000"/>
<rect x="910" y="411" width="5" height="3" fill="#000"/>
<rect x="911" y="412" width="3" height="1" fill="#fff"/>
<rect x="920" y="409" width="1" height="25" fill="#000"/>
<rect x="918" y="411" width="5" height="21" fill="#000"/>
<rect x="928" y="389" width="1" height="26" fill="#000"/>
<rect x="926" y="389" width="5" height="14" fill="#000"/>
<rect x="936" y="403" width="1" height="20" fill="#000"/>
<rect x="934" y="406" width="5" height="7" fill="#000"/>
<rect x="944" y="427" width="1" height="31" fill="#000"/>
<rect x="942" y="431" width="5" height="27" fill="#000"/>
<rect x="943" y="432" width="3" height="25" fill="#fff"/>
<rect x="952" y="409" width="1" height="33" fill="#000"/>
<rect x="950" y="427" width="5" height="15" fill="#000"/>
<rect x="960" y="399" width="1" height="22" fill="#000"/>
<rect x="958" y="409" width="5" height="8" fill="#000"/>
<rect x="968" y="395" width="1" height="34" fill="#000"/>
<rect x="966" y="398" width="5" height="24" fill="#000"/>
<rect x="967" y="399" width="3" height="22" fill="#fff"/>
<rect x="976" y="407" width="1" height="22" fill="#000"/>
<rect x="974" y="420" width="5" height="1" fill="#000"/>
<rect x="984" y="416" width="1" height="33" fill="#000"/>
<rect x="982" y="421" width="5" height="26" fill="#000"/>
<rect x="992" y="431" width="1" height="34" fill="#000"/>
<rect x="990" y="438" width="5" height="25" fill="#000"/>
<rect x="991" y="439" width="3" height="23" fill="#fff"/>
<rect x="1000" y="424" width="1" height="22" fill="#000"/>
<rect x="998" y="426" width="5" height="13" fill="#000"/>
<rect x="999" y="427" width="3" height="11" fill="#fff"/>
<rect x="1008" y="428" width="1" height="14" fill="#000"/>
<rect x="1006" y="438" width="5" height="1" fill="#000"/>
<rect x="1016" y="426" width="1" height="15" fill="#000"/>
<rect x="1014" y="430" width="5" height="9" fill="#000"/>
<rect x="1015" y="431" width="3" height="7" fill="#fff"/>
<rect x="1024" y="396" width="1" height="25" fill="#000"/>
<rect x="1022" y="396" width="5" height="14" fill="#000"/>
<rect x="1032" y="388" width="1" height="25" fill="#000"/>
<rect x="1030" y="396" width="5" height="14" fill="#000"/>
<rect x="1031" y="397" width="3" height="12" fill="#fff"/>
<rect x="1040" y="370" width="1" height="26" fill="#000"/>
<rect x="1038" y="378" width="5" height="15" fill="#000"/>
<rect x="1048" y="352" width="1" height="39" fill="#000"/>
<rect x="1046" y="353" width="5" height="36" fill="#000"/>
<rect x="1047" y="354" width="3" height="34" fill="#fff"/>
<rect x="1056" y="366" width="1" height="18" fill="#000"/>
<rect x="1054" y="376" width="5" height="6" fill="#000"/>
<rect x="1064" y="369" width="1" height="25" fill="#000"/>
<rect x="1062" y="374" width="5" height="20" fill="#000"/>
<rect x="1072" y="365" width="1" height="14" fill="#000"/>
<rect x="1070" y="367" width="5" height="4" fill="#000"/>
<rect x="1080" y="359" width="1" height="17" fill="#000"/>
<rect x="1078" y="366" width="5" height="4" fill="#000"/>
<rect x="1079" y="367" width="3" height="2" fill="#fff"/>
<rect x="1088" y="342" width="1" height="23" fill="#000"/>
<rect x="1086" y="350" width="5" height="13" fill="#000"/>
<rect x="1087" y="351" width="3" height="11" fill="#fff"/>
<rect x="1096" y="344" width="1" height="14" fill="#000"/>
<rect x="1094" y="347" width="5" height="8" fill="#000"/>
<rect x="1104" y="341" width="1" height="19" fill="#000"/>
<rect x="1102" y="354" width="5" height="3" fill="#000"/>
<rect x="1112" y="351" width="1" height="28" fill="#000"/>
<rect x="1110" y="354" width="5" height="24" fill="#000"/>
<rect x="1120" y="373" width="1" height="18" fill="#000"/>
<rect x="1118" y="383" width="5" height="2" fill="#000"/>
<rect x="1128" y="372" width="1" height="13" fill="#000"/>
<rect x="1126" y="381" width="5" height="2" fill="#000"/>
<rect x="1136" y="337" width="1" height="16" fill="#000"/>
<rect x="1134" y="343" width="5" height="5" fill="#000"/>
<rect x="1135" y="344" width="3" height="3" fill="#fff"/>
<rect x="1144" y="339" width="1" height="25" fill="#000"/>
<rect x="1142" y="344" width="5" height="12" fill="#000"/>
<rect x="1152" y="350" width="1" height="15" fill="#000"/>
<rect x="1150" y="356" width="5" height="5" fill="#000"/>
<rect x="1151" y="357" width="3" height="3" fill="#fff"/>
<rect x="1160" y="356" width="1" height="9" fill="#000"/>
<rect x="1158" y="356" width="5" height="6" fill="#000"/>
<rect x="1168" y="364" width="1" height="32" fill="#000"/>
<rect x="1166" y="370" width="5" height="25" fill="#000"/>
<rect x="1176" y="385" width="1" height="15" fill="#000"/>
<rect x="1174" y="394" width="5" height="3" fill="#000"/>
<rect x="1184" y="400" width="1" height="15" fill="#000"/>
<rect x="1182" y="404" width="5" height="7" fill="#000"/>
<rect x="1183" y="405" width="3" height="5" fill="#fff"/>
<rect x="1192" y="384" width="1" height="22" fill="#000"/>
<rect x="1190" y="388" width="5" height="18" fill="#000"/>
<rect x="1191" y="389" width="3" height="16" fill="#fff"/>
<rect x="1200" y="374" width="1" height="21" fill="#000"/>
<rect x="1198" y="385" width="5" height="1" fill="#000"/>
<rect x="1208" y="375" width="1" height="12" fill="#000"/>
<rect x="1206" y="380" width="5" height="3" fill="#000"/>
<rect x="1207" y="381" width="3" height="1" fill="#fff"/>
<rect x="1216" y="391" width="1" height="16" fill="#000"/>
<rect x="1214" y="396" width="5" height="1" fill="#000"/>
<rect x="1224" y="391" width="1" height="12" fill="#000"/>
<rect x="1222" y="396" width="5" height="2" fill="#000"/>
<rect x="1232" y="370" width="1" height="16" fill="#000"/>
<rect x="1230" y="373" width="5" height="13" fill="#000"/>
<rect x="1231" y="374" width="3" height="11" fill="#fff"/>
<rect x="1240" y="365" width="1" height="7" fill="#000"/>
<rect x="1238" y="368" width="5" height="3" fill="#000"/>
<rect x="1239" y="369" width="3" height="1" fill="#fff"/>
<rect x="1248" y="355" width="1" height="22" fill="#000"/>
<rect x="1246" y="358" width="5" height="3" fill="#000"/>
<rect x="1247" y="359" width="3" height="1" fill="#fff"/>
<rect x="1256" y="339" width="1" height="25" fill="#000"/>
<rect x="1254" y="340" width="5" height="20" fill="#000"/>
<rect x="1255" y="341" width="3" height="18" fill="#fff"/>
<rect x="1264" y="331" width="1" height="19" fill="#000"/>
<rect x="1262" y="343" width="5" height="4" fill="#000"/>
<rect x="1272" y="345" width="1" height="8" fill="#000"/>
<rect x="1270" y="347" width="5" height="2" fill="#000"/>
<rect x="1280" y="396" width="1" height="13" fill="#000"/>
<rect x="1278" y="400" width="5" height="9" fill="#000"/>
<rect x="1288" y="408" width="1" height="15" fill="#000"/>
<rect x="1286" y="411" width="5" height="8" fill="#000"/>
<rect x="1296" y="397" width="1" height="13" fill="#000"/>
<rect x="1294" y="404" width="5" height="1" fill="#000"/>
<rect x="1304" y="388" width="1" height="15" fill="#000"/>
<rect x="1302" y="390" width="5" height="13" fill="#000"/>
<rect x="1303" y="391" width="3" height="11" fill="#fff"/>
<rect x="1312" y="381" width="1" height="23" fill="#000"/>
<rect x="1310" y="386" width="5" height="17" fill="#000"/>
<rect x="1311" y="387" width="3" height="15" fill="#fff"/>
<rect x="1320" y="371" width="1" height="14" fill="#000"/>
<rect x="1318" y="376" width="5" height="9" fill="#000"/>
<rect x="1319" y="377" width="3" height="7" fill="#fff"/>
<rect x="1328" y="381" width="1" height="12" fill="#000"/>
<rect x="1326" y="386" width="5" height="2" fill="#000"/>
<rect x="1336" y="382" width="1" height="10" fill="#000"/>
<rect x="1334" y="386" width="5" height="2" fill="#000"/>
<rect x="1344" y="366" width="1" height="14" fill="#000"/>
<rect x="1342" y="373" width="5" height="2" fill="#000"/>
<rect x="1352" y="365" width="1" height="12" fill="#000"/>
<rect x="1350" y="372" width="5" height="1" fill="#000"/>
<rect x="1360" y="335" width="1" height="25" fill="#000"/>
<rect x="1358" y="339" width="5" height="20" fill="#000"/>
<rect x="1359" y="340" width="3" height="18" fill="#fff"/>
<rect x="1368" y="340" width="1" height="12" fill="#000"/>
<rect x="1366" y="343" width="5" height="7" fill="#000"/>
<rect x="1376" y="362" width="1" height="18" fill="#000"/>
<rect x="1374" y="364" width="5" height="14" fill="#000"/>
<rect x="1384" y="366" width="1" height="13" fill="#000"/>
<rect x="1382" y="370" width="5" height="7" fill="#000"/>
<rect x="1383" y="371" width="3" height="5" fill="#fff"/>
<rect x="1392" y="368" width="1" height="20" fill="#000"/>
<rect x="1390" y="370" width="5" height="14" fill="#000"/>
<rect x="1391" y="371" width="3" height="12" fill="#fff"/>
<rect x="1400" y="367" width="1" height="10" fill="#000"/>
<rect x="1398" y="369" width="5" height="6" fill="#000"/>
</g>
<g shape-rendering="crispEdges">
<line x1="1001.0" y1="440.0" x2="1125.2" y2="346.6" stroke="#ff0000" stroke-width="3.3"/><polygon points="1132.0,341.5 1125.8,352.4 1124.4,347.2 1119.8,344.4" fill="#ff0000"/>
<line x1="1135.0" y1="341.0" x2="1173.4" y2="401.6" stroke="#ff0000" stroke-width="3.3"/><polygon points="1178.0,408.8 1167.6,401.8 1172.9,400.8 1176.1,396.4" fill="#ff0000"/>
<line x1="1178.0" y1="408.8" x2="1248.7" y2="344.3" stroke="#ff0000" stroke-width="3.3"/><polygon points="1255.0,338.6 1249.9,350.0 1248.0,345.0 1243.1,342.7" fill="#ff0000"/>
<line x1="1255.5" y1="339.0" x2="1281.8" y2="403.6" stroke="#ff0000" stroke-width="3.3"/><polygon points="1285.0,411.5 1276.0,402.7 1281.4,402.7 1285.3,399.0" fill="#ff0000"/>
<line x1="1285.0" y1="411.5" x2="1359.8" y2="341.6" stroke="#ff0000" stroke-width="3.3"/><polygon points="1366.0,335.8 1361.0,347.3 1359.1,342.3 1354.2,340.0" fill="#ff0000"/>
<line x1="1366.0" y1="335.8" x2="1395.5" y2="382.3" stroke="#ff0000" stroke-width="3.3"/><polygon points="1400.0,389.5 1389.6,382.5 1394.9,381.5 1398.1,377.1" fill="#ff0000"/>
</g>
<rect x="1304" y="358" width="108" height="11" fill="#00ff00" shape-rendering="crispEdges"/>
<text x="1426" y="329" font-size="32" font-weight="600" style="font-family:'Noto Serif CJK SC','Noto Sans CJK SC',serif" fill="#002000" transform="translate(1.2,1.2)">多空转折点</text>
<text x="1426" y="329" font-size="32" font-weight="600" style="font-family:'Noto Serif CJK SC','Noto Sans CJK SC',serif" fill="#00ff00">多空转折点</text>
<g shape-rendering="crispEdges"><rect x="1473" y="362" width="8" height="1" fill="#ff0000"/><rect x="1480.5" y="360.5" width="2" height="3" fill="#fff" stroke="#ff0000" stroke-width="1"/>
<rect x="1483.5" y="350.5" width="73" height="24" fill="#fff" stroke="#ff0000" stroke-width="1"/></g>
<text x="1485" y="0" font-size="20" fill="#ff0000" textLength="70.5" lengthAdjust="spacingAndGlyphs" transform="translate(0,370.5) scale(1,1.13)">24274.7</text>
<g shape-rendering="crispEdges" fill="#000">
<rect x="0" y="28" width="1631" height="1"/>
<rect x="0" y="581" width="1631" height="1"/>
<rect x="0" y="583" width="1631" height="1"/>
<rect x="0" y="753" width="1631" height="1"/>
<rect x="0" y="755" width="1631" height="1"/>
<rect x="0" y="929" width="1631" height="1"/>
<rect x="1630" y="28" width="1" height="554"/>
<rect x="1630" y="583" width="1" height="171"/>
<rect x="1630" y="755" width="1" height="175"/>
</g>
<g shape-rendering="crispEdges" fill="#c0c0c0">
<rect x="0" y="594" width="1" height="37"/>
<rect x="8" y="595" width="1" height="36"/>
<rect x="16" y="596" width="1" height="35"/>
<rect x="24" y="598" width="1" height="33"/>
<rect x="32" y="601" width="1" height="30"/>
<rect x="40" y="602" width="1" height="29"/>
<rect x="48" y="604" width="1" height="27"/>
<rect x="56" y="607" width="1" height="24"/>
<rect x="64" y="611" width="1" height="20"/>
<rect x="72" y="611" width="1" height="20"/>
<rect x="80" y="610" width="1" height="21"/>
<rect x="88" y="609" width="1" height="22"/>
<rect x="96" y="609" width="1" height="22"/>
<rect x="104" y="606" width="1" height="25"/>
<rect x="112" y="604" width="1" height="27"/>
<rect x="120" y="603" width="1" height="28"/>
<rect x="128" y="604" width="1" height="27"/>
<rect x="136" y="606" width="1" height="25"/>
<rect x="144" y="606" width="1" height="25"/>
<rect x="152" y="608" width="1" height="23"/>
<rect x="160" y="609" width="1" height="22"/>
<rect x="168" y="610" width="1" height="21"/>
<rect x="176" y="608" width="1" height="23"/>
<rect x="184" y="608" width="1" height="23"/>
<rect x="192" y="611" width="1" height="20"/>
<rect x="200" y="618" width="1" height="13"/>
<rect x="208" y="625" width="1" height="6"/>
<rect x="216" y="630" width="1" height="1"/>
<rect x="224" y="631" width="1" height="1"/>
<rect x="232" y="631" width="1" height="4"/>
<rect x="240" y="631" width="1" height="9"/>
<rect x="248" y="631" width="1" height="11"/>
<rect x="256" y="631" width="1" height="19"/>
<rect x="264" y="631" width="1" height="25"/>
<rect x="272" y="631" width="1" height="34"/>
<rect x="280" y="631" width="1" height="43"/>
<rect x="288" y="631" width="1" height="48"/>
<rect x="296" y="631" width="1" height="53"/>
<rect x="304" y="631" width="1" height="57"/>
<rect x="312" y="631" width="1" height="59"/>
<rect x="320" y="631" width="1" height="58"/>
<rect x="328" y="631" width="1" height="54"/>
<rect x="336" y="631" width="1" height="52"/>
<rect x="344" y="631" width="1" height="48"/>
<rect x="352" y="631" width="1" height="41"/>
<rect x="360" y="631" width="1" height="34"/>
<rect x="368" y="631" width="1" height="29"/>
<rect x="376" y="631" width="1" height="25"/>
<rect x="384" y="631" width="1" height="22"/>
<rect x="392" y="631" width="1" height="20"/>
<rect x="400" y="631" width="1" height="15"/>
<rect x="408" y="631" width="1" height="10"/>
<rect x="416" y="631" width="1" height="5"/>
<rect x="424" y="631" width="1" height="1"/>
<rect x="432" y="631" width="1" height="1"/>
<rect x="440" y="628" width="1" height="3"/>
<rect x="448" y="626" width="1" height="5"/>
<rect x="456" y="624" width="1" height="7"/>
<rect x="464" y="621" width="1" height="10"/>
<rect x="472" y="620" width="1" height="11"/>
<rect x="480" y="622" width="1" height="9"/>
<rect x="488" y="624" width="1" height="7"/>
<rect x="496" y="625" width="1" height="6"/>
<rect x="504" y="626" width="1" height="5"/>
<rect x="512" y="629" width="1" height="2"/>
<rect x="520" y="630" width="1" height="1"/>
<rect x="528" y="631" width="1" height="1"/>
<rect x="536" y="631" width="1" height="1"/>
<rect x="544" y="631" width="1" height="7"/>
<rect x="552" y="631" width="1" height="12"/>
<rect x="560" y="631" width="1" height="15"/>
<rect x="568" y="631" width="1" height="17"/>
<rect x="576" y="631" width="1" height="20"/>
<rect x="584" y="631" width="1" height="22"/>
<rect x="592" y="631" width="1" height="24"/>
<rect x="600" y="631" width="1" height="24"/>
<rect x="608" y="631" width="1" height="28"/>
<rect x="616" y="631" width="1" height="31"/>
<rect x="624" y="631" width="1" height="31"/>
<rect x="632" y="631" width="1" height="31"/>
<rect x="640" y="631" width="1" height="30"/>
<rect x="648" y="631" width="1" height="29"/>
<rect x="656" y="631" width="1" height="29"/>
<rect x="664" y="631" width="1" height="29"/>
<rect x="672" y="631" width="1" height="27"/>
<rect x="680" y="631" width="1" height="23"/>
<rect x="688" y="631" width="1" height="24"/>
<rect x="696" y="631" width="1" height="28"/>
<rect x="704" y="631" width="1" height="33"/>
<rect x="712" y="631" width="1" height="42"/>
<rect x="720" y="631" width="1" height="42"/>
<rect x="728" y="631" width="1" height="43"/>
<rect x="736" y="631" width="1" height="43"/>
<rect x="744" y="631" width="1" height="45"/>
<rect x="752" y="631" width="1" height="54"/>
<rect x="760" y="631" width="1" height="61"/>
<rect x="768" y="631" width="1" height="76"/>
<rect x="776" y="631" width="1" height="78"/>
<rect x="784" y="631" width="1" height="83"/>
<rect x="792" y="631" width="1" height="91"/>
<rect x="800" y="631" width="1" height="92"/>
<rect x="808" y="631" width="1" height="94"/>
<rect x="816" y="631" width="1" height="93"/>
<rect x="824" y="631" width="1" height="100"/>
<rect x="832" y="631" width="1" height="111"/>
<rect x="840" y="631" width="1" height="114"/>
<rect x="848" y="631" width="1" height="111"/>
<rect x="856" y="631" width="1" height="102"/>
<rect x="864" y="631" width="1" height="103"/>
<rect x="872" y="631" width="1" height="104"/>
<rect x="880" y="631" width="1" height="97"/>
<rect x="888" y="631" width="1" height="88"/>
<rect x="896" y="631" width="1" height="77"/>
<rect x="904" y="631" width="1" height="64"/>
<rect x="912" y="631" width="1" height="53"/>
<rect x="920" y="631" width="1" height="47"/>
<rect x="928" y="631" width="1" height="38"/>
<rect x="936" y="631" width="1" height="32"/>
<rect x="944" y="631" width="1" height="29"/>
<rect x="952" y="631" width="1" height="28"/>
<rect x="960" y="631" width="1" height="23"/>
<rect x="968" y="631" width="1" height="17"/>
<rect x="976" y="631" width="1" height="15"/>
<rect x="984" y="631" width="1" height="16"/>
<rect x="992" y="631" width="1" height="15"/>
<rect x="1000" y="631" width="1" height="14"/>
<rect x="1008" y="631" width="1" height="14"/>
<rect x="1016" y="631" width="1" height="13"/>
<rect x="1024" y="631" width="1" height="9"/>
<rect x="1032" y="631" width="1" height="4"/>
<rect x="1040" y="631" width="1" height="1"/>
<rect x="1048" y="624" width="1" height="7"/>
<rect x="1056" y="621" width="1" height="10"/>
<rect x="1064" y="620" width="1" height="11"/>
<rect x="1072" y="617" width="1" height="14"/>
<rect x="1080" y="614" width="1" height="17"/>
<rect x="1088" y="610" width="1" height="21"/>
<rect x="1096" y="608" width="1" height="23"/>
<rect x="1104" y="606" width="1" height="25"/>
<rect x="1112" y="608" width="1" height="23"/>
<rect x="1120" y="610" width="1" height="21"/>
<rect x="1128" y="611" width="1" height="20"/>
<rect x="1136" y="610" width="1" height="21"/>
<rect x="1144" y="609" width="1" height="22"/>
<rect x="1152" y="608" width="1" height="23"/>
<rect x="1160" y="610" width="1" height="21"/>
<rect x="1168" y="615" width="1" height="16"/>
<rect x="1176" y="619" width="1" height="12"/>
<rect x="1184" y="624" width="1" height="7"/>
<rect x="1192" y="625" width="1" height="6"/>
<rect x="1200" y="626" width="1" height="5"/>
<rect x="1208" y="627" width="1" height="4"/>
<rect x="1216" y="629" width="1" height="2"/>
<rect x="1224" y="631" width="1" height="1"/>
<rect x="1232" y="629" width="1" height="2"/>
<rect x="1240" y="627" width="1" height="4"/>
<rect x="1248" y="624" width="1" height="7"/>
<rect x="1256" y="621" width="1" height="10"/>
<rect x="1264" y="618" width="1" height="13"/>
<rect x="1272" y="616" width="1" height="15"/>
<rect x="1280" y="623" width="1" height="8"/>
<rect x="1288" y="630" width="1" height="1"/>
<rect x="1296" y="631" width="1" height="1"/>
<rect x="1304" y="631" width="1" height="3"/>
<rect x="1312" y="631" width="1" height="2"/>
<rect x="1320" y="631" width="1" height="1"/>
<rect x="1328" y="631" width="1" height="2"/>
<rect x="1336" y="631" width="1" height="2"/>
<rect x="1344" y="631" width="1" height="1"/>
<rect x="1352" y="631" width="1" height="1"/>
<rect x="1360" y="626" width="1" height="5"/>
<rect x="1368" y="623" width="1" height="8"/>
<rect x="1376" y="624" width="1" height="7"/>
<rect x="1384" y="624" width="1" height="7"/>
<rect x="1392" y="625" width="1" height="6"/>
<rect x="1400" y="626" width="1" height="5"/>
</g>
<path d="M0 594.5h3m3 0h2m0 1h1m3 0h3m3 0h3m3 0h3m3 0h3m3 1h3m3 1h3m3 1h3m3 1h3m3 1h3m3 1h2m0 1h1m3 0h1m0 1h2m3 1h3m3 1h3m3 1h3m51 0h3m3 0h3m3 0h3m3 0h3m3 0h3m3 0h3m3 0h3m3 0h3m3 0h1m-97 1h3m21 0h3m3 0h3m3 0h3m3 0h3m52 0h2m-93 1h3m3 0h3m3 0h3m81 0h2m0 1h1m945 0h3m3 0h3m3 0h3m3 0h3m-963 1h3m933 0h3m27 0h3m3 0h2m-44 1h3m41 0h1m3 0h2m-974 1h2m911 0h2m3 0h3m53 0h1m-973 1h1m904 0h2m3 0h1m65 0h1m-973 1h2m898 0h1m72 0h2m-973 1h1m3 0h1m887 0h3m81 0h3m-974 1h2m880 0h2m93 0h3m-975 1h3m873 0h1m101 0h3m-975 1h1m977 0h3m-980 1h2m862 0h2m117 0h3m-123 1h1m-859 1h2m982 0h2m-984 1h1m850 0h2m131 0h1m-729 1h3m3 0h3m3 0h3m3 0h1m575 0h1m137 0h1m47 0h3m3 0h2m-1040 1h2m244 0h3m22 0h2m3 0h3m3 0h3m700 0h2m3 0h1m30 0h2m3 0h3m11 0h1m3 0h3m3 0h3m-1051 1h1m237 0h3m45 0h3m550 0h2m148 0h2m3 0h3m11 0h1m3 0h3m3 0h1m35 0h3m3 0h3m-830 1h2m603 0h1m161 0h3m3 0h2m58 0h3m3 0h3m75 0h1m-1147 1h1m227 0h1m59 0h3m538 0h2m243 0h2m65 0h2m-1142 1h1m220 0h3m69 0h1m533 0h1m247 0h1m53 0h1m3 0h3m3 0h1m-1139 1h1m215 0h1m76 0h2m526 0h2m255 0h3m41 0h1m3 0h2m-914 1h2m82 0h2m520 0h1m263 0h2m30 0h1m3 0h2m-912 1h1m89 0h1m785 0h1m3 0h2m18 0h1m3 0h2m-1112 1h2m202 0h2m94 0h3m508 0h2m275 0h1m3 0h3m3 0h3m3 0h2m-1104 1h1m303 0h1m503 0h1m-611 1h1m106 0h2m497 0h1m-801 1h1m191 0h2m112 0h1m491 0h2m-799 1h1m305 0h2m-307 1h1m183 0h3m604 0h2m-483 1h1m479 0h1m-611 1h1m130 0h2m473 0h1m-783 1h1m173 0h2m604 0h2m-781 1h1m310 0h1m463 0h1m-775 1h1m167 0h1m142 0h2m459 0h2m-608 1h2m599 0h2m-453 1h3m447 0h1m-763 1h1m156 0h2m159 0h1m437 0h3m-758 1h2m153 0h1m162 0h2m429 0h3m-8 1h2m-596 1h2m171 0h3m417 0h1m-739 1h1m143 0h1m587 0h3m-734 1h2m321 0h2m401 0h2m-590 1h2m185 0h1m395 0h1m3 0h1m-721 1h1m131 0h1m191 0h2m388 0h2m-715 1h2m323 0h1m381 0h3m-583 1h1m201 0h3m-327 1h1m119 0h2m208 0h3m365 0h1m-698 1h1m334 0h1m359 0h2m-696 1h1m113 0h1m220 0h2m-224 1h1m226 0h3m345 0h3m-579 1h1m233 0h3m45 0h3m3 0h3m3 0h3m3 0h1m-409 1h1m347 0h3m33 0h3m22 0h2m269 0h1m-680 1h1m352 0h3m3 0h3m3 0h3m3 0h3m3 0h3m33 0h3m262 0h1m-678 1h1m100 0h2m315 0h3m255 0h1m-577 1h1m323 0h3m3 1h3m-429 1h1m90 0h2m339 0h3m232 0h2m-668 1h2m87 0h1m347 0h2m226 0h1m-227 1h1m-356 1h2m575 0h1m-657 1h1m77 0h1m359 0h2m215 0h1m-655 1h1m438 0h1m213 0h1m-653 1h1m71 0h1m-3 1h2m370 0h1m0 1h2m-441 1h2m59 0h2m581 0h1m-643 1h1m57 0h1m582 0h1m-200 1h2m196 0h1m-637 1h1m48 0h2m389 0h1m-440 1h2m45 0h1m-5 1h1m-39 1h1m35 0h2m400 0h1m186 0h2m-626 1h2m29 0h1m406 0h2m183 0h1m-619 1h1m23 0h2m-25 1h2m15 0h3m-15 1h3m3 0h3m423 0h2m0 1h1m173 0h1m-2 1h1m-170 1h1m167 0h1m-168 1h2m3 3h2m156 0h1m-157 1h1m154 0h1m-2 1h1m-151 2h2m0 1h1m143 1h1m-2 1h1m-140 1h2m136 0h1m-137 1h1m131 2h1m-129 1h1m126 0h1m-127 1h1m124 0h1m-125 1h1m3 3h2m114 0h1m-115 1h1m112 0h1m-2 1h1m-109 2h2m0 1h1m101 1h1m-2 1h1m-98 1h2m94 0h1m-95 1h1m3 2h1m85 0h1m-86 1h2m82 0h1m-2 1h1m-79 1h1m0 1h1m0 1h1m71 0h1m-2 1h1m-2 1h1m-67 1h2m0 1h1m58 1h2m-57 1h3m51 0h1m-49 2h3m41 0h1m-39 1h3m33 0h2m-32 1h3m23 0h1m-21 1h3m3 0h3m3 0h3m3 0h2" stroke="#ff0000" stroke-width="1" fill="none" shape-rendering="crispEdges"/>
<g shape-rendering="crispEdges" stroke="#c0c0c0" stroke-width="1" stroke-dasharray="3,3" stroke-dashoffset="1">
<line x1="0" y1="791.5" x2="1630" y2="791.5"/>
<line x1="0" y1="842.5" x2="1630" y2="842.5"/>
<line x1="0" y1="903.5" x2="1630" y2="903.5"/>
</g>
<path d="M0 801.5h2m0 1h2m0 1h2m0 1h2m0 1h1m0 1h1m0 1h1m0 1h1m0 1h1m98 0h4m-103 1h1m94 0h4m4 0h4m-106 1h1m90 0h3m12 0h2m-107 1h1m88 0h1m17 0h1m54 0h1m-162 1h1m86 0h1m19 0h1m52 0h1m1 0h1m-162 1h1m84 0h1m21 0h1m50 0h1m3 0h1m-162 1h1m82 0h1m23 0h1m48 0h1m5 0h1m-162 1h1m80 0h1m24 0h1m46 0h2m7 0h1m-162 1h1m78 0h1m26 0h1m44 0h1m9 0h1m-161 1h1m76 0h1m28 0h1m42 0h1m11 0h1m-162 1h1m72 0h4m30 0h1m31 0h10m13 0h1m-162 1h1m18 0h2m43 0h8m35 0h1m28 0h2m24 0h1m-162 1h1m16 0h1m2 0h2m36 0h5m44 0h1m24 0h3m27 0h1m-162 1h1m15 0h1m4 0h2m32 0h2m50 0h1m20 0h3m30 0h1m-161 1h1m13 0h1m7 0h2m28 0h2m53 0h2m14 0h4m34 0h1m-161 1h1m11 0h1m10 0h1m25 0h2m57 0h1m9 0h4m38 0h1m862 0h1m207 0h3m101 0h1m-1335 1h1m10 0h1m11 0h1m22 0h2m60 0h1m6 0h2m43 0h1m860 0h1m1 0h1m204 0h2m3 0h4m96 0h1m1 0h2m-1336 1h1m8 0h1m12 0h1m22 0h1m62 0h1m2 0h3m45 0h1m277 0h5m577 0h1m3 0h1m37 0h3m45 0h1m116 0h1m9 0h4m92 0h1m3 0h2m-1337 1h1m6 0h1m14 0h1m20 0h1m64 0h2m49 0h1m235 0h3m22 0h2m12 0h2m5 0h4m573 0h1m3 0h1m35 0h2m3 0h4m40 0h1m1 0h1m113 0h2m14 0h4m87 0h1m6 0h1m-1338 1h1m6 0h1m14 0h1m20 0h1m115 0h1m231 0h4m3 0h2m19 0h1m2 0h2m9 0h1m10 0h1m572 0h1m5 0h1m32 0h2m9 0h10m30 0h1m2 0h1m110 0h2m20 0h2m85 0h1m7 0h2m-1339 1h1m4 0h1m16 0h1m18 0h1m117 0h1m227 0h3m9 0h2m15 0h2m5 0h2m5 0h2m12 0h1m570 0h1m7 0h1m29 0h2m21 0h1m28 0h1m4 0h2m107 0h1m23 0h1m84 0h1m10 0h1m-1339 1h1m2 0h1m18 0h1m17 0h1m117 0h1m225 0h2m14 0h2m12 0h1m9 0h2m1 0h2m14 0h1m569 0h1m9 0h1m25 0h3m24 0h1m27 0h1m6 0h1m104 0h2m25 0h1m82 0h1m12 0h1m-1339 1h1m1 0h1m18 0h1m16 0h1m119 0h1m222 0h2m18 0h3m8 0h1m12 0h1m17 0h1m567 0h1m11 0h1m20 0h4m28 0h1m25 0h1m8 0h1m8 0h3m91 0h1m27 0h1m82 0h1m12 0h1m-1338 1h1m20 0h1m15 0h1m119 0h1m220 0h2m23 0h4m2 0h2m31 0h1m567 0h1m11 0h1m17 0h3m33 0h1m24 0h1m9 0h1m3 0h4m3 0h2m87 0h2m28 0h1m81 0h1m14 0h1m-1317 1h1m13 0h1m121 0h1m214 0h5m29 0h2m34 0h1m565 0h1m13 0h1m15 0h1m36 0h1m23 0h1m11 0h3m9 0h2m83 0h2m30 0h1m80 0h1m15 0h1m-1317 1h1m13 0h1m121 0h1m209 0h5m70 0h1m561 0h4m15 0h1m13 0h1m38 0h1m21 0h1m26 0h2m79 0h2m33 0h1m79 0h1m16 0h1m-1317 1h1m11 0h1m123 0h1m207 0h1m76 0h1m555 0h5m20 0h2m10 0h1m40 0h1m20 0h1m28 0h1m74 0h4m35 0h1m78 0h1m17 0h1m-1317 1h1m11 0h1m123 0h1m207 0h1m76 0h1m553 0h2m27 0h2m6 0h2m42 0h1m18 0h1m30 0h1m70 0h3m39 0h1m78 0h1m18 0h1m-1317 1h1m9 0h1m125 0h1m205 0h1m78 0h1m550 0h2m31 0h1m4 0h1m45 0h2m16 0h1m30 0h1m69 0h1m43 0h1m68 0h9m19 0h1m-1316 1h2m7 0h1m125 0h1m205 0h1m78 0h1m548 0h2m34 0h2m1 0h1m48 0h3m12 0h1m32 0h1m68 0h1m43 0h1m67 0h1m29 0h1m-1315 1h2m4 0h1m127 0h1m203 0h1m80 0h1m489 0h1m55 0h2m38 0h1m52 0h2m10 0h1m32 0h1m67 0h1m44 0h1m44 0h1m21 0h1m30 0h1m15 0h5m-1333 1h1m3 0h1m127 0h1m166 0h1m36 0h1m80 0h1m449 0h3m35 0h2m1 0h2m52 0h1m95 0h10m34 0h1m43 0h2m21 0h1m45 0h1m41 0h2m1 0h1m19 0h1m32 0h1m9 0h5m5 0h3m-1335 1h3m128 0h1m164 0h2m1 0h1m34 0h1m82 0h1m16 0h9m399 0h5m18 0h1m3 0h4m30 0h1m5 0h2m49 0h1m141 0h1m38 0h4m2 0h1m19 0h1m46 0h1m40 0h1m4 0h1m17 0h1m33 0h1m7 0h2m13 0h2m-1335 1h1m129 0h1m161 0h2m4 0h1m33 0h1m82 0h1m15 0h1m9 0h1m397 0h1m5 0h4m13 0h1m8 0h3m25 0h2m8 0h1m47 0h1m142 0h1m34 0h4m7 0h1m17 0h1m47 0h1m38 0h2m6 0h2m15 0h1m34 0h1m4 0h2m17 0h2m-1207 1h1m159 0h2m7 0h2m30 0h1m84 0h2m11 0h2m10 0h1m174 0h1m221 0h1m10 0h2m10 0h1m12 0h2m21 0h2m11 0h2m43 0h2m144 0h1m29 0h4m12 0h2m15 0h1m47 0h1m36 0h2m10 0h1m13 0h1m35 0h1m2 0h2m-1186 1h1m157 0h2m11 0h1m9 0h2m18 0h1m86 0h2m8 0h1m13 0h1m172 0h2m220 0h1m13 0h2m6 0h2m15 0h2m18 0h1m15 0h1m23 0h2m16 0h1m147 0h1m25 0h3m18 0h1m13 0h1m49 0h1m34 0h1m13 0h1m11 0h1m37 0h2m-1183 1h1m156 0h1m13 0h1m6 0h2m2 0h2m15 0h1m89 0h2m5 0h1m15 0h1m170 0h1m2 0h1m217 0h2m16 0h1m4 0h1m19 0h2m15 0h1m17 0h1m20 0h2m2 0h2m13 0h1m148 0h1m24 0h1m22 0h1m11 0h1m50 0h1m32 0h2m15 0h1m9 0h1m-1143 1h1m155 0h1m15 0h1m2 0h3m6 0h2m13 0h1m91 0h2m1 0h2m17 0h1m169 0h1m2 0h1m216 0h1m19 0h2m1 0h1m22 0h2m11 0h2m19 0h1m17 0h2m6 0h2m9 0h2m150 0h1m22 0h1m24 0h1m10 0h1m50 0h1m30 0h2m18 0h9m-1142 1h1m155 0h1m16 0h2m11 0h1m11 0h1m94 0h1m19 0h1m11 0h2m155 0h1m4 0h1m214 0h1m22 0h1m25 0h2m8 0h1m22 0h2m13 0h2m10 0h2m3 0h4m152 0h1m21 0h1m26 0h3m6 0h1m52 0h1m27 0h2m-1112 1h1m153 0h1m31 0h2m9 0h1m115 0h1m8 0h2m2 0h2m152 0h1m5 0h1m213 0h1m51 0h2m5 0h1m25 0h1m9 0h3m14 0h3m157 0h10m10 0h1m30 0h4m2 0h1m52 0h1m25 0h2m-1110 1h1m27 0h1m125 0h1m33 0h9m117 0h1m6 0h1m6 0h2m149 0h1m7 0h1m210 0h2m54 0h2m1 0h2m27 0h1m6 0h2m187 0h2m7 0h1m35 0h2m53 0h1m23 0h2m-1108 1h1m25 0h2m1 0h1m124 0h1m160 0h1m3 0h2m9 0h2m146 0h1m8 0h1m208 0h2m58 0h1m30 0h1m2 0h3m191 0h2m4 0h1m92 0h1m20 0h2m-1106 1h1m24 0h1m3 0h1m123 0h1m161 0h1m1 0h2m13 0h2m144 0h1m8 0h1m206 0h2m92 0h2m196 0h2m1 0h1m93 0h1m18 0h2m-1103 1h1m21 0h2m5 0h1m122 0h1m162 0h1m17 0h2m141 0h1m10 0h1m202 0h3m294 0h1m94 0h1m16 0h2m-1101 1h1m19 0h2m7 0h1m121 0h1m183 0h2m138 0h1m11 0h1m200 0h2m392 0h1m15 0h1m-1099 1h1m18 0h1m10 0h1m120 0h1m185 0h2m135 0h1m13 0h1m170 0h1m25 0h3m395 0h1m13 0h1m-1097 1h1m16 0h1m11 0h1m120 0h1m187 0h1m134 0h1m13 0h1m169 0h1m1 0h1m22 0h2m398 0h1m12 0h1m-1096 1h1m16 0h1m12 0h1m118 0h1m189 0h1m132 0h1m14 0h1m169 0h1m1 0h1m21 0h1m401 0h2m9 0h1m-1095 1h1m15 0h1m14 0h1m117 0h1m189 0h1m132 0h1m15 0h1m167 0h1m3 0h1m20 0h1m403 0h2m6 0h1m-1093 1h1m14 0h1m14 0h1m116 0h1m191 0h1m130 0h1m16 0h1m166 0h1m5 0h1m18 0h1m406 0h1m4 0h1m-1092 1h1m13 0h1m16 0h1m115 0h1m191 0h1m130 0h1m17 0h1m165 0h1m6 0h1m17 0h1m407 0h2m1 0h1m-1091 1h1m13 0h1m16 0h1m115 0h1m192 0h1m100 0h2m26 0h1m18 0h1m164 0h1m7 0h1m16 0h1m410 0h1m-1089 1h1m11 0h1m18 0h1m113 0h1m193 0h1m99 0h1m2 0h2m24 0h1m19 0h1m162 0h1m9 0h1m15 0h1m-678 1h1m11 0h1m18 0h1m15 0h2m96 0h1m194 0h1m97 0h1m5 0h2m21 0h1m20 0h3m160 0h1m10 0h1m13 0h1m-676 1h1m9 0h1m20 0h3m10 0h2m2 0h1m78 0h3m13 0h1m196 0h1m95 0h1m8 0h2m19 0h1m23 0h4m25 0h5m125 0h1m12 0h1m11 0h1m-674 1h1m8 0h1m23 0h4m3 0h3m4 0h1m77 0h1m3 0h4m6 0h4m196 0h1m58 0h1m35 0h1m11 0h9m9 0h1m28 0h2m23 0h1m4 0h6m118 0h1m13 0h1m11 0h1m-673 1h2m5 0h1m28 0h3m8 0h1m75 0h1m8 0h6m201 0h1m56 0h1m1 0h1m34 0h1m20 0h2m7 0h1m29 0h1m22 0h1m11 0h4m114 0h1m14 0h2m8 0h1m-670 1h1m4 0h1m39 0h1m74 0h1m216 0h1m56 0h1m1 0h1m33 0h1m23 0h2m4 0h1m31 0h1m21 0h1m15 0h3m110 0h1m17 0h2m6 0h1m-669 1h1m2 0h1m41 0h1m72 0h1m218 0h1m54 0h1m3 0h1m21 0h3m7 0h1m26 0h1m3 0h1m31 0h1m21 0h1m18 0h2m107 0h1m20 0h2m3 0h1m-667 1h1m1 0h1m41 0h1m71 0h1m219 0h1m21 0h5m28 0h1m3 0h1m20 0h1m3 0h4m2 0h1m28 0h3m33 0h1m19 0h1m21 0h2m104 0h1m23 0h2m1 0h1m-666 1h1m43 0h1m69 0h1m221 0h2m14 0h5m5 0h2m25 0h1m5 0h1m18 0h1m8 0h2m31 0h1m33 0h1m19 0h1m23 0h2m71 0h2m28 0h1m26 0h1m-621 1h1m68 0h1m224 0h2m10 0h2m12 0h2m22 0h1m6 0h1m17 0h1m77 0h1m17 0h1m26 0h1m31 0h2m22 0h3m10 0h2m2 0h1m26 0h1m-592 1h1m66 0h1m227 0h2m6 0h2m16 0h2m20 0h1m7 0h1m15 0h1m78 0h1m17 0h1m27 0h1m30 0h1m1 0h2m19 0h1m3 0h4m3 0h3m4 0h1m26 0h1m-592 1h1m66 0h1m229 0h2m2 0h2m20 0h3m16 0h1m8 0h1m14 0h1m80 0h1m16 0h1m27 0h1m29 0h1m4 0h2m17 0h1m7 0h3m8 0h1m24 0h1m-590 1h1m64 0h1m232 0h2m25 0h4m11 0h1m10 0h1m12 0h1m81 0h1m15 0h1m29 0h1m28 0h1m6 0h2m14 0h1m20 0h1m22 0h1m-589 1h1m64 0h1m263 0h3m8 0h1m10 0h1m11 0h1m82 0h1m15 0h1m29 0h1m28 0h1m8 0h1m12 0h1m21 0h1m21 0h1m-587 1h1m62 0h1m267 0h3m4 0h1m12 0h1m9 0h1m84 0h1m14 0h1m30 0h1m27 0h1m9 0h1m11 0h1m22 0h1m19 0h1m-586 1h1m62 0h1m270 0h2m2 0h1m12 0h1m7 0h2m85 0h1m13 0h1m31 0h1m26 0h1m11 0h1m9 0h1m24 0h1m17 0h1m-584 1h2m59 0h1m273 0h2m14 0h1m4 0h2m88 0h1m12 0h1m32 0h1m25 0h1m12 0h1m7 0h1m25 0h1m16 0h1m-581 1h2m57 0h1m289 0h1m2 0h2m90 0h1m12 0h1m33 0h1m24 0h1m13 0h1m6 0h1m26 0h1m15 0h1m-579 1h2m54 0h1m291 0h2m93 0h1m10 0h1m34 0h1m23 0h1m15 0h1m4 0h1m28 0h1m13 0h1m-576 1h2m52 0h1m386 0h1m10 0h1m35 0h1m22 0h1m16 0h1m2 0h1m29 0h1m12 0h1m-573 1h1m51 0h1m387 0h1m8 0h1m36 0h1m22 0h1m17 0h1m1 0h1m30 0h2m9 0h1m-571 1h2m48 0h1m388 0h2m7 0h1m37 0h1m20 0h1m19 0h1m33 0h2m6 0h1m-568 1h1m47 0h1m390 0h3m4 0h1m37 0h1m20 0h1m55 0h2m4 0h1m-567 1h1m45 0h1m394 0h2m1 0h1m39 0h3m17 0h1m57 0h2m1 0h1m-565 1h2m17 0h1m25 0h1m396 0h2m42 0h4m13 0h1m59 0h1m-562 1h1m15 0h1m1 0h2m22 0h1m445 0h2m10 0h1m-500 1h1m13 0h1m4 0h2m10 0h4m6 0h1m447 0h1m9 0h1m-499 1h2m10 0h1m7 0h1m7 0h2m4 0h4m1 0h1m448 0h1m9 0h1m-497 1h2m6 0h2m9 0h2m2 0h3m10 0h2m449 0h1m7 0h1m-494 1h1m4 0h1m13 0h2m465 0h1m6 0h1m-493 1h2m1 0h1m482 0h1m5 0h1m-491 1h1m483 0h1m4 0h1m-5 1h1m3 0h1m-4 1h1m2 0h1m-3 1h1m1 0h1m-3 1h2m-1 1h1" stroke="#1e90ff" stroke-width="1" fill="none" shape-rendering="crispEdges"/>
<g font-size="9" fill="#000">
<rect x="1631" y="50" width="3" height="1" shape-rendering="crispEdges"/>
<text x="1636" y="54" textLength="33" lengthAdjust="spacingAndGlyphs">29298.0</text>
<rect x="1631" y="83" width="3" height="1" shape-rendering="crispEdges"/>
<text x="1636" y="87" textLength="33" lengthAdjust="spacingAndGlyphs">28770.0</text>
<rect x="1631" y="116" width="3" height="1" shape-rendering="crispEdges"/>
<text x="1636" y="120" textLength="33" lengthAdjust="spacingAndGlyphs">28242.0</text>
<rect x="1631" y="149" width="3" height="1" shape-rendering="crispEdges"/>
<text x="1636" y="153" textLength="33" lengthAdjust="spacingAndGlyphs">27698.0</text>
<rect x="1631" y="182" width="3" height="1" shape-rendering="crispEdges"/>
<text x="1636" y="186" textLength="33" lengthAdjust="spacingAndGlyphs">27170.0</text>
<rect x="1631" y="215" width="3" height="1" shape-rendering="crispEdges"/>
<text x="1636" y="219" textLength="33" lengthAdjust="spacingAndGlyphs">26642.0</text>
<rect x="1631" y="248" width="3" height="1" shape-rendering="crispEdges"/>
<text x="1636" y="252" textLength="33" lengthAdjust="spacingAndGlyphs">26114.0</text>
<rect x="1631" y="281" width="3" height="1" shape-rendering="crispEdges"/>
<text x="1636" y="285" textLength="33" lengthAdjust="spacingAndGlyphs">25570.0</text>
<rect x="1631" y="314" width="3" height="1" shape-rendering="crispEdges"/>
<text x="1636" y="318" textLength="33" lengthAdjust="spacingAndGlyphs">25042.0</text>
<rect x="1631" y="347" width="3" height="1" shape-rendering="crispEdges"/>
<text x="1636" y="351" textLength="33" lengthAdjust="spacingAndGlyphs">24514.0</text>
<rect x="1631" y="380" width="3" height="1" shape-rendering="crispEdges"/>
<text x="1636" y="384" textLength="33" lengthAdjust="spacingAndGlyphs">23986.0</text>
<rect x="1631" y="413" width="3" height="1" shape-rendering="crispEdges"/>
<text x="1636" y="417" textLength="33" lengthAdjust="spacingAndGlyphs">23442.0</text>
<rect x="1631" y="446" width="3" height="1" shape-rendering="crispEdges"/>
<text x="1636" y="450" textLength="33" lengthAdjust="spacingAndGlyphs">22914.0</text>
<rect x="1631" y="479" width="3" height="1" shape-rendering="crispEdges"/>
<text x="1636" y="483" textLength="33" lengthAdjust="spacingAndGlyphs">22386.0</text>
<rect x="1631" y="512" width="3" height="1" shape-rendering="crispEdges"/>
<text x="1636" y="516" textLength="33" lengthAdjust="spacingAndGlyphs">21858.0</text>
<rect x="1631" y="545" width="3" height="1" shape-rendering="crispEdges"/>
<text x="1636" y="549" textLength="33" lengthAdjust="spacingAndGlyphs">21330.0</text>
<rect x="1631" y="578" width="3" height="1" shape-rendering="crispEdges"/>
<text x="1636" y="582" textLength="33" lengthAdjust="spacingAndGlyphs">20802.0</text>
<text x="1634.5" y="594.5">454.5</text>
<text x="1634.5" y="635.0">0.00</text>
<text x="1634.5" y="750.5">-1198.58</text>
<text x="1634.5" y="766.5">100</text>
<text x="1634.5" y="795.0">80</text>
<text x="1634.5" y="846.0">50</text>
<text x="1634.5" y="907.0">15</text>
<text x="1634.5" y="926.5">0</text>
</g>
<g font-size="9" fill="#fff">
<rect x="1632" y="320" width="41" height="11" fill="#ff0000" shape-rendering="crispEdges"/>
<text x="1636" y="329" textLength="33" lengthAdjust="spacingAndGlyphs">24853.4</text>
<rect x="1632" y="340" width="41" height="11" fill="#ff0000" shape-rendering="crispEdges"/>
<text x="1636" y="349" textLength="33" lengthAdjust="spacingAndGlyphs">24531.9</text>
<rect x="1625.5" y="344.5" width="4" height="4" fill="#fff" stroke="#ff0000" stroke-width="1" shape-rendering="crispEdges"/>
<rect x="1632" y="356" width="41" height="11" fill="#32cd32" shape-rendering="crispEdges"/>
<text x="1636" y="365" textLength="33" lengthAdjust="spacingAndGlyphs">24274.7</text>
<rect x="1625.5" y="360.5" width="4" height="4" fill="#fff" stroke="#32cd32" stroke-width="1" shape-rendering="crispEdges"/>
<rect x="1632" y="370" width="41" height="11" fill="#000000" shape-rendering="crispEdges"/>
<text x="1636" y="379" textLength="33" lengthAdjust="spacingAndGlyphs">24067.0</text>
<rect x="1632" y="387" width="41" height="11" fill="#0000ff" shape-rendering="crispEdges"/>
<text x="1636" y="396" textLength="33" lengthAdjust="spacingAndGlyphs">23776.3</text>
<rect x="1625.5" y="391.5" width="4" height="4" fill="#fff" stroke="#0000ff" stroke-width="1" shape-rendering="crispEdges"/>
<rect x="1632" y="406" width="41" height="11" fill="#0000ff" shape-rendering="crispEdges"/>
<text x="1636" y="415" textLength="33" lengthAdjust="spacingAndGlyphs">23470.9</text>
<rect x="1625.5" y="410.5" width="4" height="4" fill="#fff" stroke="#0000ff" stroke-width="1" shape-rendering="crispEdges"/>
</g>
<g font-size="9" fill="#000">
<text x="-9" y="942">2 Jan 2020</text>
<rect x="56" y="930" width="1" height="3" shape-rendering="crispEdges"/>
<text x="55" y="942">8 Jan 01:15</text>
<rect x="120" y="930" width="1" height="3" shape-rendering="crispEdges"/>
<text x="119" y="942">14 Jan 01:15</text>
<rect x="184" y="930" width="1" height="3" shape-rendering="crispEdges"/>
<text x="183" y="942">20 Jan 01:15</text>
<rect x="248" y="930" width="1" height="3" shape-rendering="crispEdges"/>
<text x="247" y="942">24 Jan 01:15</text>
<rect x="312" y="930" width="1" height="3" shape-rendering="crispEdges"/>
<text x="311" y="942">3 Feb 05:00</text>
<rect x="376" y="930" width="1" height="3" shape-rendering="crispEdges"/>
<text x="375" y="942">7 Feb 05:00</text>
<rect x="440" y="930" width="1" height="3" shape-rendering="crispEdges"/>
<text x="439" y="942">13 Feb 05:00</text>
<rect x="504" y="930" width="1" height="3" shape-rendering="crispEdges"/>
<text x="503" y="942">19 Feb 05:00</text>
<rect x="568" y="930" width="1" height="3" shape-rendering="crispEdges"/>
<text x="567" y="942">25 Feb 05:00</text>
<rect x="632" y="930" width="1" height="3" shape-rendering="crispEdges"/>
<text x="631" y="942">2 Mar 05:00</text>
<rect x="696" y="930" width="1" height="3" shape-rendering="crispEdges"/>
<text x="695" y="942">6 Mar 05:00</text>
<rect x="760" y="930" width="1" height="3" shape-rendering="crispEdges"/>
<text x="759" y="942">12 Mar 05:00</text>
<rect x="824" y="930" width="1" height="3" shape-rendering="crispEdges"/>
<text x="823" y="942">18 Mar 05:00</text>
<rect x="888" y="930" width="1" height="3" shape-rendering="crispEdges"/>
<text x="887" y="942">24 Mar 05:00</text>
<rect x="952" y="930" width="1" height="3" shape-rendering="crispEdges"/>
<text x="951" y="942">30 Mar 05:00</text>
<rect x="1016" y="930" width="1" height="3" shape-rendering="crispEdges"/>
<text x="1015" y="942">3 Apr 05:00</text>
<rect x="1080" y="930" width="1" height="3" shape-rendering="crispEdges"/>
<text x="1079" y="942">9 Apr 05:00</text>
<rect x="1144" y="930" width="1" height="3" shape-rendering="crispEdges"/>
<text x="1143" y="942">17 Apr 05:00</text>
<rect x="1208" y="930" width="1" height="3" shape-rendering="crispEdges"/>
<text x="1207" y="942">23 Apr 05:00</text>
<rect x="1272" y="930" width="1" height="3" shape-rendering="crispEdges"/>
<text x="1271" y="942">29 Apr 05:00</text>
<rect x="1336" y="930" width="1" height="3" shape-rendering="crispEdges"/>
<text x="1335" y="942">7 May 05:00</text>
<rect x="1400" y="930" width="1" height="3" shape-rendering="crispEdges"/>
<text x="1399" y="942">13 May 05:00</text>
</g>
<g font-size="9" fill="#000">
<text x="7.5" y="40" textLength="187.5" lengthAdjust="spacingAndGlyphs">HK50-,H4&#160;&#160;24176.0 24240.5 24049.5 24067.0</text>
<polygon points="0,39 0,37 2,39" fill="#000"/>
<text x="-3" y="596" textLength="117" lengthAdjust="spacingAndGlyphs">MACD(12,26,9) 58.22 44.52</text>
<text x="-3" y="768" textLength="67" lengthAdjust="spacingAndGlyphs">RSI(14) 50.2388</text>
</g>
<polygon points="1410,29 1420,29 1415,34" fill="#c0c0c0"/>
<g shape-rendering="crispEdges">
<rect x="0" y="48" width="214" height="64" fill="#fff"/>
<rect x="0" y="48" width="47" height="25" fill="url(#gTop)"/>
<rect x="162" y="48" width="52" height="25" fill="url(#gTop)"/>
<rect x="0" y="72" width="104" height="40" fill="url(#gBot)"/>
<rect x="106" y="72" width="108" height="40" fill="url(#gBot)"/>
<rect x="0" y="72" width="43" height="1" fill="#7878f0"/>
<rect x="166" y="72" width="44" height="1" fill="#7878f0"/>
<rect x="49.5" y="48.5" width="110" height="21" fill="#fff" stroke="#a8a8a8"/>
<rect x="50" y="49" width="20" height="20" fill="url(#gBtn)"/><rect x="70" y="49" width="1" height="20" fill="#a8a8a8"/>
<rect x="139" y="49" width="20" height="20" fill="url(#gBtn)"/><rect x="138" y="49" width="1" height="20" fill="#a8a8a8"/>
<rect x="0" y="71" width="43" height="1" fill="#1a1aa8"/><rect x="166" y="71" width="44" height="1" fill="#1a1aa8"/>
<rect x="46" y="48" width="1" height="24" fill="#2020b8"/><rect x="162" y="48" width="1" height="24" fill="#2020b8"/>
</g>
<polygon points="56.5,57 62.5,57 59.5,60.5" fill="#4a5ac8"/>
<polygon points="146,60.5 152,60.5 149,57" fill="#4a5ac8"/>
<text x="134.5" y="62.5" font-size="12.5" text-anchor="end" fill="#000">1.00</text>
<text x="7.5" y="63.5" font-size="12" fill="#fff" textLength="25.5" lengthAdjust="spacingAndGlyphs">SELL</text>
<text x="175.5" y="63.5" font-size="12" fill="#fff" textLength="24" lengthAdjust="spacingAndGlyphs">BUY</text>
<text x="11.5" y="103" font-size="12" font-weight="700" fill="#fff" textLength="34" lengthAdjust="spacingAndGlyphs">24065</text>
<text x="121" y="103" font-size="12" font-weight="700" fill="#fff" textLength="34" lengthAdjust="spacingAndGlyphs">24079</text>
<text x="49" y="103" font-size="34" fill="#fff" textLength="23" lengthAdjust="spacingAndGlyphs">.5</text>
<text x="160" y="103" font-size="34" fill="#fff" textLength="23" lengthAdjust="spacingAndGlyphs">.5</text>
<g shape-rendering="crispEdges">
<rect x="0" y="0" width="1677" height="24" fill="#f0f0f0"/>
<rect x="0" y="24" width="1677" height="1" fill="#a0a0a0"/>
<rect x="0" y="25" width="1677" height="1" fill="#696969"/>
<rect x="1676" y="24" width="1" height="924" fill="#f0f0f0"/>
<rect x="227" y="1" width="1" height="21" fill="#a0a0a0"/><rect x="228" y="1" width="1" height="21" fill="#fff"/>
<rect x="322" y="1" width="1" height="21" fill="#a0a0a0"/><rect x="323" y="1" width="1" height="21" fill="#fff"/>
<rect x="412" y="1" width="1" height="21" fill="#a0a0a0"/><rect x="413" y="1" width="1" height="21" fill="#fff"/>
<rect x="474" y="1" width="1" height="21" fill="#a0a0a0"/><rect x="475" y="1" width="1" height="21" fill="#fff"/>
<rect x="596" y="1" width="1" height="21" fill="#a0a0a0"/><rect x="597" y="1" width="1" height="21" fill="#fff"/>
<rect x="662" y="1" width="1" height="21" fill="#a0a0a0"/><rect x="663" y="1" width="1" height="21" fill="#fff"/>
<rect x="901" y="1" width="1" height="21" fill="#a0a0a0"/><rect x="902" y="1" width="1" height="21" fill="#fff"/>
<rect x="1162" y="1" width="1" height="21" fill="#a0a0a0"/><rect x="1163" y="1" width="1" height="21" fill="#fff"/>
<rect x="231" y="3" width="3" height="1" fill="#b0b0b0"/>
<rect x="231" y="5" width="3" height="1" fill="#b0b0b0"/>
<rect x="231" y="7" width="3" height="1" fill="#b0b0b0"/>
<rect x="231" y="9" width="3" height="1" fill="#b0b0b0"/>
<rect x="231" y="11" width="3" height="1" fill="#b0b0b0"/>
<rect x="231" y="13" width="3" height="1" fill="#b0b0b0"/>
<rect x="231" y="15" width="3" height="1" fill="#b0b0b0"/>
<rect x="231" y="17" width="3" height="1" fill="#b0b0b0"/>
<rect x="231" y="19" width="3" height="1" fill="#b0b0b0"/>
<rect x="231" y="21" width="3" height="1" fill="#b0b0b0"/>
<rect x="601" y="3" width="3" height="1" fill="#b0b0b0"/>
<rect x="601" y="5" width="3" height="1" fill="#b0b0b0"/>
<rect x="601" y="7" width="3" height="1" fill="#b0b0b0"/>
<rect x="601" y="9" width="3" height="1" fill="#b0b0b0"/>
<rect x="601" y="11" width="3" height="1" fill="#b0b0b0"/>
<rect x="601" y="13" width="3" height="1" fill="#b0b0b0"/>
<rect x="601" y="15" width="3" height="1" fill="#b0b0b0"/>
<rect x="601" y="17" width="3" height="1" fill="#b0b0b0"/>
<rect x="601" y="19" width="3" height="1" fill="#b0b0b0"/>
<rect x="601" y="21" width="3" height="1" fill="#b0b0b0"/>
<rect x="905" y="3" width="3" height="1" fill="#b0b0b0"/>
<rect x="905" y="5" width="3" height="1" fill="#b0b0b0"/>
<rect x="905" y="7" width="3" height="1" fill="#b0b0b0"/>
<rect x="905" y="9" width="3" height="1" fill="#b0b0b0"/>
<rect x="905" y="11" width="3" height="1" fill="#b0b0b0"/>
<rect x="905" y="13" width="3" height="1" fill="#b0b0b0"/>
<rect x="905" y="15" width="3" height="1" fill="#b0b0b0"/>
<rect x="905" y="17" width="3" height="1" fill="#b0b0b0"/>
<rect x="905" y="19" width="3" height="1" fill="#b0b0b0"/>
<rect x="905" y="21" width="3" height="1" fill="#b0b0b0"/>
<rect x="265" y="0" width="26" height="22" fill="#f8f8f8"/><rect x="265" y="0" width="26" height="1" fill="#a0a0a0"/><rect x="265" y="0" width="1" height="22" fill="#a0a0a0"/><rect x="290" y="0" width="1" height="23" fill="#fff"/><rect x="265" y="22" width="26" height="1" fill="#fff"/>
<rect x="417" y="0" width="26" height="22" fill="#f8f8f8"/><rect x="417" y="0" width="26" height="1" fill="#a0a0a0"/><rect x="417" y="0" width="1" height="22" fill="#a0a0a0"/><rect x="442" y="0" width="1" height="23" fill="#fff"/><rect x="417" y="22" width="26" height="1" fill="#fff"/>
<rect x="445" y="0" width="26" height="22" fill="#f8f8f8"/><rect x="445" y="0" width="26" height="1" fill="#a0a0a0"/><rect x="445" y="0" width="1" height="22" fill="#a0a0a0"/><rect x="470" y="0" width="1" height="23" fill="#fff"/><rect x="445" y="22" width="26" height="1" fill="#fff"/>
<rect x="605" y="0" width="26" height="22" fill="#f8f8f8"/><rect x="605" y="0" width="26" height="1" fill="#a0a0a0"/><rect x="605" y="0" width="1" height="22" fill="#a0a0a0"/><rect x="630" y="0" width="1" height="23" fill="#fff"/><rect x="605" y="22" width="26" height="1" fill="#fff"/>
<rect x="1052" y="0" width="25" height="22" fill="#f8f8f8"/><rect x="1052" y="0" width="25" height="1" fill="#a0a0a0"/><rect x="1052" y="0" width="1" height="22" fill="#a0a0a0"/><rect x="1076" y="0" width="1" height="23" fill="#fff"/><rect x="1052" y="22" width="25" height="1" fill="#fff"/>
</g>
<g font-size="12" fill="#000"><text x="20" y="15.5">新订单</text><text x="173" y="15.5">自动交易</text></g>
<g font-size="9.5" fill="#333">
<text x="916" y="16">M1</text>
<text x="944" y="16">M5</text>
<text x="970" y="16">M15</text>
<text x="998" y="16">M30</text>
<text x="1029" y="16">H1</text>
<text x="1056" y="16">H4</text>
<text x="1085" y="16">D1</text>
<text x="1112" y="16">W1</text>
<text x="1139" y="16">MN</text>
</g>
<g><path d="M1.5,4.5h8l3,3v10h-11z" fill="#fff" stroke="#808080"/><path d="M3,8h5M3,10.5h7M3,13h4" stroke="#a0a0a0" fill="none"/><path d="M9.500,10.500h3v3.500h4v3.500h-4v4h-3v-4h-4v-3.500h4z" fill="#28dc3c" stroke="#0c8c14" stroke-width="1"/></g><path d="M68,13.200l4.300,-7.500l2.700,-0.700l8.700,7.200l-1.400,3.200l-7.300,4.300z" fill="#e6b422" stroke="#a87808" stroke-width="0.8"/><path d="M72,8l3,-1l6,5l-4,5z" fill="#f8dc50"/><path d="M99,5l6,-1l4,2v10h-10z" fill="#3aa0f0" stroke="#1a70c8"/><rect x="103" y="8" width="5" height="2" fill="#d0e8ff"/><path d="M97,19a3,3 0 0 1 2,-5a4,4 0 0 1 7,-1a3.5,3.5 0 0 1 5,4a2,2 0 0 1 -1,2z" fill="#e8f0ff" stroke="#7090c8"/><g fill="none"><circle cx="132" cy="12" r="7.5" stroke="#9ab8e8" stroke-width="1.3"/><circle cx="132" cy="12" r="4.5" stroke="#5a80d8" stroke-width="1.3"/><circle cx="132" cy="12" r="1.8" fill="#3050d0"/><path d="M132,12v7.5a7.5,7.5 0 0 0 7,-5" stroke="#30a030" stroke-width="1.6"/></g><g><path d="M152,12l14,1l-7,8z" fill="#f0d040" stroke="#c8a020"/><ellipse cx="159" cy="9" rx="8" ry="3" fill="#4aa0e0" stroke="#2878b8"/><path d="M155,9a4,4 0 0 1 8,0z" fill="#6ab8f0" stroke="#2878b8"/><circle cx="163.5" cy="16" r="4.3" fill="#e02010"/><rect x="161.7" y="14.2" width="3.6" height="3.6" fill="#fff"/></g><path d="M245.5,6v14M243,17.5h13" stroke="#505050" fill="none"/><path d="M243.8,8.300l1.700,-2.800l1.700,2.800zM254.2,15.800l2.800,1.700l-2.800,1.700z" fill="#505050"/><path d="M251.5,8v7M251.5,8.5h3M248.5,14.500h3" stroke="#108a10" stroke-width="1.4" fill="none"/><path d="M273.5,6v14M271,17.5h13" stroke="#505050" fill="none"/><path d="M271.8,8.300l1.700,-2.800l1.700,2.800zM282.2,15.800l2.800,1.700l-2.800,1.700z" fill="#505050"/><path d="M279.5,4v12" stroke="#108a10"/><rect x="277.500" y="6.500" width="4" height="7" fill="#30e030" stroke="#108a10"/><path d="M301.5,6v14M299,17.5h13" stroke="#505050" fill="none"/><path d="M299.8,8.300l1.700,-2.800l1.700,2.800zM310.2,15.800l2.800,1.700l-2.800,1.700z" fill="#505050"/><path d="M300,15c3,-8 7,-7 12,-2" stroke="#108a10" stroke-width="1.3" fill="none"/><path d="M340,14l6,6" stroke="#c8a020" stroke-width="3" stroke-linecap="round"/><circle cx="337" cy="10" r="5.5" fill="#d8ecff" stroke="#3a80d0" stroke-width="1.4"/><path d="M334,10h6" stroke="#3a80d0" stroke-width="1.6"/><path d="M337,7v6" stroke="#3a80d0" stroke-width="1.6"/><path d="M368,14l6,6" stroke="#c8a020" stroke-width="3" stroke-linecap="round"/><circle cx="365" cy="10" r="5.5" fill="#d8ecff" stroke="#3a80d0" stroke-width="1.4"/><path d="M362,10h6" stroke="#3a80d0" stroke-width="1.6"/><rect x="387" y="4" width="8" height="8" fill="#38a838"/><rect x="395" y="4" width="8" height="8" fill="#2860d0"/><rect x="387" y="12" width="8" height="8" fill="#2860d0"/><rect x="395" y="12" width="8" height="8" fill="#38a838"/><path d="M389,9h4M397,9h4M389,17h4M397,17h4" stroke="#fff" stroke-width="1.5"/><path d="M425.5,6v14M423,17.5h13" stroke="#505050" fill="none"/><path d="M423.8,8.300l1.700,-2.800l1.700,2.800zM434.2,15.800l2.800,1.700l-2.800,1.700z" fill="#505050"/><path d="M430,8l4,3.500l-4,3.500z" fill="#30d030" stroke="#108a10"/><path d="M453.5,6v14M451,17.5h13" stroke="#505050" fill="none"/><path d="M451.8,8.300l1.700,-2.800l1.700,2.800zM462.2,15.800l2.800,1.700l-2.800,1.700z" fill="#505050"/><path d="M459.500,6v10" stroke="#2060c0" stroke-width="1.3"/><path d="M465,11h-4M463,9l-2.500,2l2.500,2" stroke="#d03010" fill="none"/><path d="M484.500,4.500h8l3,3v10h-11z" fill="#fff" stroke="#808080"/><path d="M489,7c-2,0 -2,2 -2,4v5" stroke="#605030" fill="none" stroke-width="0.9"/><path d="M492.500,10.500h3v3.500h4v3.500h-4v4h-3v-4h-4v-3.500h4z" fill="#28dc3c" stroke="#0c8c14" stroke-width="1"/><path d="M506,10.500h6l-3,3z" fill="#000"/><path d="M545,10.500h6l-3,3z" fill="#000"/><path d="M584,10.500h6l-3,3z" fill="#000"/><path d="M890,10.500h6l-3,3z" fill="#000"/><circle cx="529.500" cy="12" r="6.400" fill="#f4f4f4" stroke="#1470d4" stroke-width="2"/><path d="M529.500,8.500v4h3" stroke="#303030" fill="none" stroke-width="1.2"/><rect x="561.500" y="5.500" width="15" height="13" fill="#fff" stroke="#3070d0"/><rect x="561" y="5" width="16" height="2.500" fill="#3070d0"/><path d="M563,11l3,-1l3,0.500l3,-1.500l3,0" stroke="#a02010" fill="none"/><path d="M563,16l3,-1l3,0.500l3,-1.500l3,1" stroke="#108a10" fill="none"/><path d="M562,12.500h14" stroke="#3070d0" stroke-width="0.6"/><path d="M612.500,5v12.500l3,-3l2.500,5l2,-1l-2.500,-5h4z" fill="#303030"/><path d="M645.500,5v15M638,12.500h15" stroke="#505050" fill="none"/><path d="M679.500,5v14" stroke="#505050"/><path d="M701,12.500h13" stroke="#505050"/><path d="M729,19l14,-12" stroke="#505050"/><path d="M756,17l12,-9M758,19l12,-9M760,9v9M764,6v11" stroke="#505050" fill="none" stroke-width="0.9"/><text x="768" y="21" font-size="6" font-weight="700" fill="#303030">E</text><path d="M784,5.500h14M784,9.500h14M784,13.500h14M784,17.500h10" stroke="#606060" stroke-dasharray="1,1" fill="none"/><text x="795" y="21" font-size="6" font-weight="700" fill="#303030">F</text><text x="815" y="17" font-size="12" font-weight="700" fill="#606060">A</text><rect x="841.500" y="5.500" width="12" height="13" fill="none" stroke="#606060" stroke-dasharray="1,1"/><text x="844" y="17" font-size="11" font-weight="700" fill="#606060">T</text><path d="M872,6l3,3.500h-6zM879,19l-3,-3.500h6z" fill="#404040"/><path d="M870,13l4,3M877,9l4,3" stroke="#404040"/><path d="M1629.800,12.800l-4.600,4" stroke="#2050c8" stroke-width="2.600" stroke-linecap="round"/><circle cx="1632.500" cy="9.600" r="4" fill="#f4f4f8" stroke="#2858d0" stroke-width="1.300"/><path d="M1667.500,13l1.200,2.800l-3.200,-2.400z" fill="#707070"/><ellipse cx="1665.200" cy="8.800" rx="6.500" ry="4.800" fill="#f2f2f8" stroke="#8c8c8c"/><path d="M1654.500,16.500l-0.900,2.200l3,-1.800z" fill="#707070"/><ellipse cx="1656.400" cy="13.300" rx="5.100" ry="4.100" fill="#f6f6fa" stroke="#8c8c8c"/>
</svg></body></html>
